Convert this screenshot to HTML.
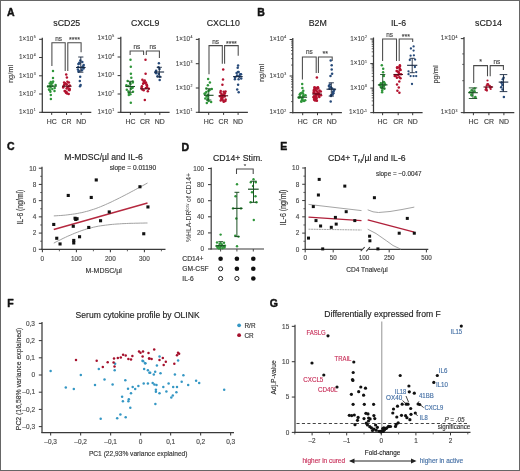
<!DOCTYPE html><html><head><meta charset="utf-8"><style>
html,body{margin:0;padding:0;background:#fff;width:520px;height:471px;overflow:hidden}
svg{display:block;font-family:"Liberation Sans", sans-serif;will-change:transform}
text{paint-order:stroke;stroke-linejoin:round}
text[font-weight=bold]{stroke:#111;stroke-width:0.45px}
</style></head><body>
<svg width="520" height="471" viewBox="0 0 520 471">
<rect x="0" y="0" width="520" height="471" fill="#fff"/>
<text x="7" y="15.9" font-size="10.5" text-anchor="start" fill="#111" font-weight="bold" >A</text>
<text x="13.3" y="74" font-size="7.4" text-anchor="middle" fill="#444" font-weight="normal" stroke="#444" stroke-width="0.15" transform="rotate(-90 13.3 74)" >ng/ml</text>
<line x1="42.3" y1="37.8" x2="42.3" y2="112.89999999999999" stroke="#3a3a3a" stroke-width="1.25" />
<line x1="41.699999999999996" y1="112.3" x2="91.3" y2="112.3" stroke="#3a3a3a" stroke-width="1.25" />
<line x1="39.099999999999994" y1="39.3" x2="42.3" y2="39.3" stroke="#3a3a3a" stroke-width="1.05" />
<text x="35.7" y="41.1" font-size="6.4" text-anchor="end" fill="#4a4a4a" stroke="#4a4a4a" stroke-width="0.12">1×10<tspan font-size="3.5" dy="-2.9" dx="0.3">5</tspan></text>
<line x1="39.099999999999994" y1="57.5" x2="42.3" y2="57.5" stroke="#3a3a3a" stroke-width="1.05" />
<text x="35.7" y="59.3" font-size="6.4" text-anchor="end" fill="#4a4a4a" stroke="#4a4a4a" stroke-width="0.12">1×10<tspan font-size="3.5" dy="-2.9" dx="0.3">4</tspan></text>
<line x1="39.099999999999994" y1="75.8" x2="42.3" y2="75.8" stroke="#3a3a3a" stroke-width="1.05" />
<text x="35.7" y="77.6" font-size="6.4" text-anchor="end" fill="#4a4a4a" stroke="#4a4a4a" stroke-width="0.12">1×10<tspan font-size="3.5" dy="-2.9" dx="0.3">3</tspan></text>
<line x1="39.099999999999994" y1="94" x2="42.3" y2="94" stroke="#3a3a3a" stroke-width="1.05" />
<text x="35.7" y="95.8" font-size="6.4" text-anchor="end" fill="#4a4a4a" stroke="#4a4a4a" stroke-width="0.12">1×10<tspan font-size="3.5" dy="-2.9" dx="0.3">2</tspan></text>
<line x1="39.099999999999994" y1="112.3" x2="42.3" y2="112.3" stroke="#3a3a3a" stroke-width="1.05" />
<text x="35.7" y="114.1" font-size="6.4" text-anchor="end" fill="#4a4a4a" stroke="#4a4a4a" stroke-width="0.12">1×10<tspan font-size="3.5" dy="-2.9" dx="0.3">1</tspan></text>
<line x1="51.7" y1="112.3" x2="51.7" y2="114.89999999999999" stroke="#3a3a3a" stroke-width="1.0" />
<text x="51.7" y="124.1" font-size="6.9" text-anchor="middle" fill="#444" font-weight="normal" stroke="#444" stroke-width="0.15" >HC</text>
<line x1="66.5" y1="112.3" x2="66.5" y2="114.89999999999999" stroke="#3a3a3a" stroke-width="1.0" />
<text x="66.5" y="124.1" font-size="6.9" text-anchor="middle" fill="#444" font-weight="normal" stroke="#444" stroke-width="0.15" >CR</text>
<line x1="81.2" y1="112.3" x2="81.2" y2="114.89999999999999" stroke="#3a3a3a" stroke-width="1.0" />
<text x="81.2" y="124.1" font-size="6.9" text-anchor="middle" fill="#444" font-weight="normal" stroke="#444" stroke-width="0.15" >ND</text>
<text x="66.8" y="26.2" font-size="8.8" text-anchor="middle" fill="#222" font-weight="normal" stroke="#222" stroke-width="0.15" >sCD25</text>
<polyline points="51.9,66.1 51.9,42.7 65.2,42.7 65.2,70.9" stroke="#4a4a4a" stroke-width="1.05" fill="none" />
<polyline points="67.8,70.9 67.8,42.7 81.1,42.7 81.1,52.3" stroke="#4a4a4a" stroke-width="1.05" fill="none" />
<text x="58.55" y="40.7" font-size="6.4" text-anchor="middle" fill="#444" font-weight="normal" stroke="#444" stroke-width="0.15" >ns</text>
<text x="74.44999999999999" y="42.4" font-size="7.0" text-anchor="middle" fill="#444" font-weight="normal" stroke="#444" stroke-width="0.15" >****</text>
<circle cx="53.0" cy="71.0" r="1.25" fill="#2f963a" stroke="none" stroke-width="0"/>
<circle cx="53.0" cy="78.0" r="1.25" fill="#2f963a" stroke="none" stroke-width="0"/>
<circle cx="50.8" cy="95.0" r="1.25" fill="#2f963a" stroke="none" stroke-width="0"/>
<circle cx="50.9" cy="99.0" r="1.25" fill="#2f963a" stroke="none" stroke-width="0"/>
<circle cx="53.1" cy="81.6" r="1.25" fill="#2f963a" stroke="none" stroke-width="0"/>
<circle cx="50.8" cy="82.1" r="1.25" fill="#2f963a" stroke="none" stroke-width="0"/>
<circle cx="52.5" cy="82.8" r="1.25" fill="#2f963a" stroke="none" stroke-width="0"/>
<circle cx="49.7" cy="83.5" r="1.25" fill="#2f963a" stroke="none" stroke-width="0"/>
<circle cx="51.2" cy="84.0" r="1.25" fill="#2f963a" stroke="none" stroke-width="0"/>
<circle cx="55.6" cy="84.9" r="1.25" fill="#2f963a" stroke="none" stroke-width="0"/>
<circle cx="52.3" cy="85.8" r="1.25" fill="#2f963a" stroke="none" stroke-width="0"/>
<circle cx="50.0" cy="86.1" r="1.25" fill="#2f963a" stroke="none" stroke-width="0"/>
<circle cx="48.0" cy="86.5" r="1.25" fill="#2f963a" stroke="none" stroke-width="0"/>
<circle cx="50.5" cy="87.5" r="1.25" fill="#2f963a" stroke="none" stroke-width="0"/>
<circle cx="54.7" cy="88.1" r="1.25" fill="#2f963a" stroke="none" stroke-width="0"/>
<circle cx="52.3" cy="88.9" r="1.25" fill="#2f963a" stroke="none" stroke-width="0"/>
<circle cx="49.0" cy="89.4" r="1.25" fill="#2f963a" stroke="none" stroke-width="0"/>
<circle cx="49.8" cy="90.2" r="1.25" fill="#2f963a" stroke="none" stroke-width="0"/>
<circle cx="54.5" cy="91.0" r="1.25" fill="#2f963a" stroke="none" stroke-width="0"/>
<circle cx="50.4" cy="91.8" r="1.25" fill="#2f963a" stroke="none" stroke-width="0"/>
<line x1="47.1" y1="86.2" x2="56.699999999999996" y2="86.2" stroke="#1a4f22" stroke-width="1.1" />
<circle cx="66.2" cy="74.5" r="1.25" fill="#b3122f" stroke="none" stroke-width="0"/>
<circle cx="66.9" cy="77.5" r="1.25" fill="#b3122f" stroke="none" stroke-width="0"/>
<circle cx="67.4" cy="81.7" r="1.25" fill="#b3122f" stroke="none" stroke-width="0"/>
<circle cx="64.1" cy="82.4" r="1.25" fill="#b3122f" stroke="none" stroke-width="0"/>
<circle cx="68.9" cy="82.6" r="1.25" fill="#b3122f" stroke="none" stroke-width="0"/>
<circle cx="65.0" cy="83.2" r="1.25" fill="#b3122f" stroke="none" stroke-width="0"/>
<circle cx="66.6" cy="84.2" r="1.25" fill="#b3122f" stroke="none" stroke-width="0"/>
<circle cx="66.6" cy="84.6" r="1.25" fill="#b3122f" stroke="none" stroke-width="0"/>
<circle cx="64.1" cy="85.0" r="1.25" fill="#b3122f" stroke="none" stroke-width="0"/>
<circle cx="69.8" cy="85.6" r="1.25" fill="#b3122f" stroke="none" stroke-width="0"/>
<circle cx="68.8" cy="86.0" r="1.25" fill="#b3122f" stroke="none" stroke-width="0"/>
<circle cx="63.3" cy="86.7" r="1.25" fill="#b3122f" stroke="none" stroke-width="0"/>
<circle cx="67.5" cy="87.2" r="1.25" fill="#b3122f" stroke="none" stroke-width="0"/>
<circle cx="63.2" cy="87.5" r="1.25" fill="#b3122f" stroke="none" stroke-width="0"/>
<circle cx="66.6" cy="88.4" r="1.25" fill="#b3122f" stroke="none" stroke-width="0"/>
<circle cx="69.4" cy="88.8" r="1.25" fill="#b3122f" stroke="none" stroke-width="0"/>
<circle cx="69.6" cy="89.3" r="1.25" fill="#b3122f" stroke="none" stroke-width="0"/>
<circle cx="68.7" cy="89.7" r="1.25" fill="#b3122f" stroke="none" stroke-width="0"/>
<circle cx="69.4" cy="90.3" r="1.25" fill="#b3122f" stroke="none" stroke-width="0"/>
<circle cx="64.6" cy="91.0" r="1.25" fill="#b3122f" stroke="none" stroke-width="0"/>
<circle cx="65.3" cy="91.2" r="1.25" fill="#b3122f" stroke="none" stroke-width="0"/>
<circle cx="66.5" cy="92.1" r="1.25" fill="#b3122f" stroke="none" stroke-width="0"/>
<circle cx="65.9" cy="92.5" r="1.25" fill="#b3122f" stroke="none" stroke-width="0"/>
<circle cx="66.3" cy="93.0" r="1.25" fill="#b3122f" stroke="none" stroke-width="0"/>
<circle cx="67.2" cy="93.4" r="1.25" fill="#b3122f" stroke="none" stroke-width="0"/>
<circle cx="68.7" cy="94.1" r="1.25" fill="#b3122f" stroke="none" stroke-width="0"/>
<line x1="62.0" y1="86.2" x2="71.6" y2="86.2" stroke="#5a0a18" stroke-width="1.1" />
<circle cx="80.2" cy="76.8" r="1.25" fill="#284b7a" stroke="none" stroke-width="0"/>
<circle cx="79.8" cy="81.0" r="1.25" fill="#284b7a" stroke="none" stroke-width="0"/>
<circle cx="80.6" cy="85.0" r="1.25" fill="#284b7a" stroke="none" stroke-width="0"/>
<circle cx="80.0" cy="86.2" r="1.25" fill="#284b7a" stroke="none" stroke-width="0"/>
<circle cx="80.3" cy="60.6" r="1.25" fill="#284b7a" stroke="none" stroke-width="0"/>
<circle cx="82.3" cy="62.1" r="1.25" fill="#284b7a" stroke="none" stroke-width="0"/>
<circle cx="79.3" cy="62.8" r="1.25" fill="#284b7a" stroke="none" stroke-width="0"/>
<circle cx="79.5" cy="63.5" r="1.25" fill="#284b7a" stroke="none" stroke-width="0"/>
<circle cx="78.4" cy="64.0" r="1.25" fill="#284b7a" stroke="none" stroke-width="0"/>
<circle cx="83.7" cy="64.9" r="1.25" fill="#284b7a" stroke="none" stroke-width="0"/>
<circle cx="83.1" cy="66.2" r="1.25" fill="#284b7a" stroke="none" stroke-width="0"/>
<circle cx="78.3" cy="67.0" r="1.25" fill="#284b7a" stroke="none" stroke-width="0"/>
<circle cx="81.9" cy="67.4" r="1.25" fill="#284b7a" stroke="none" stroke-width="0"/>
<circle cx="83.5" cy="68.6" r="1.25" fill="#284b7a" stroke="none" stroke-width="0"/>
<circle cx="77.9" cy="69.6" r="1.25" fill="#284b7a" stroke="none" stroke-width="0"/>
<circle cx="81.9" cy="70.2" r="1.25" fill="#284b7a" stroke="none" stroke-width="0"/>
<circle cx="78.8" cy="71.0" r="1.25" fill="#284b7a" stroke="none" stroke-width="0"/>
<circle cx="78.5" cy="71.8" r="1.25" fill="#284b7a" stroke="none" stroke-width="0"/>
<line x1="76.0" y1="67.5" x2="85.6" y2="67.5" stroke="#182840" stroke-width="1.1" />
<line x1="80.8" y1="57" x2="80.8" y2="72.2" stroke="#182840" stroke-width="0.9" />
<line x1="78.2" y1="57" x2="83.39999999999999" y2="57" stroke="#182840" stroke-width="0.9" />
<line x1="78.2" y1="72.2" x2="83.39999999999999" y2="72.2" stroke="#182840" stroke-width="0.9" />
<line x1="120.8" y1="36.8" x2="120.8" y2="112.89999999999999" stroke="#3a3a3a" stroke-width="1.25" />
<line x1="120.2" y1="112.3" x2="169.6" y2="112.3" stroke="#3a3a3a" stroke-width="1.25" />
<line x1="117.6" y1="38.3" x2="120.8" y2="38.3" stroke="#3a3a3a" stroke-width="1.05" />
<text x="114.2" y="40.1" font-size="6.4" text-anchor="end" fill="#4a4a4a" stroke="#4a4a4a" stroke-width="0.12">1×10<tspan font-size="3.5" dy="-2.9" dx="0.3">5</tspan></text>
<line x1="117.6" y1="57" x2="120.8" y2="57" stroke="#3a3a3a" stroke-width="1.05" />
<text x="114.2" y="58.8" font-size="6.4" text-anchor="end" fill="#4a4a4a" stroke="#4a4a4a" stroke-width="0.12">1×10<tspan font-size="3.5" dy="-2.9" dx="0.3">4</tspan></text>
<line x1="117.6" y1="75.6" x2="120.8" y2="75.6" stroke="#3a3a3a" stroke-width="1.05" />
<text x="114.2" y="77.4" font-size="6.4" text-anchor="end" fill="#4a4a4a" stroke="#4a4a4a" stroke-width="0.12">1×10<tspan font-size="3.5" dy="-2.9" dx="0.3">3</tspan></text>
<line x1="117.6" y1="94" x2="120.8" y2="94" stroke="#3a3a3a" stroke-width="1.05" />
<text x="114.2" y="95.8" font-size="6.4" text-anchor="end" fill="#4a4a4a" stroke="#4a4a4a" stroke-width="0.12">1×10<tspan font-size="3.5" dy="-2.9" dx="0.3">2</tspan></text>
<line x1="117.6" y1="112.3" x2="120.8" y2="112.3" stroke="#3a3a3a" stroke-width="1.05" />
<text x="114.2" y="114.1" font-size="6.4" text-anchor="end" fill="#4a4a4a" stroke="#4a4a4a" stroke-width="0.12">1×10<tspan font-size="3.5" dy="-2.9" dx="0.3">1</tspan></text>
<line x1="130.4" y1="112.3" x2="130.4" y2="114.89999999999999" stroke="#3a3a3a" stroke-width="1.0" />
<text x="130.4" y="124.1" font-size="6.9" text-anchor="middle" fill="#444" font-weight="normal" stroke="#444" stroke-width="0.15" >HC</text>
<line x1="145" y1="112.3" x2="145" y2="114.89999999999999" stroke="#3a3a3a" stroke-width="1.0" />
<text x="145" y="124.1" font-size="6.9" text-anchor="middle" fill="#444" font-weight="normal" stroke="#444" stroke-width="0.15" >CR</text>
<line x1="159.8" y1="112.3" x2="159.8" y2="114.89999999999999" stroke="#3a3a3a" stroke-width="1.0" />
<text x="159.8" y="124.1" font-size="6.9" text-anchor="middle" fill="#444" font-weight="normal" stroke="#444" stroke-width="0.15" >ND</text>
<text x="145.2" y="26.2" font-size="8.8" text-anchor="middle" fill="#222" font-weight="normal" stroke="#222" stroke-width="0.15" >CXCL9</text>
<polyline points="130.1,55.0 130.1,51.0 143.6,51.0 143.6,55.0" stroke="#4a4a4a" stroke-width="1.05" fill="none" />
<polyline points="146.3,55.0 146.3,51.0 159.4,51.0 159.4,58.0" stroke="#4a4a4a" stroke-width="1.05" fill="none" />
<text x="136.85" y="48.7" font-size="6.4" text-anchor="middle" fill="#444" font-weight="normal" stroke="#444" stroke-width="0.15" >ns</text>
<text x="152.85000000000002" y="48.7" font-size="6.4" text-anchor="middle" fill="#444" font-weight="normal" stroke="#444" stroke-width="0.15" >ns</text>
<circle cx="130.5" cy="59.7" r="1.25" fill="#2f963a" stroke="none" stroke-width="0"/>
<circle cx="130.8" cy="66.7" r="1.25" fill="#2f963a" stroke="none" stroke-width="0"/>
<circle cx="130.9" cy="73.7" r="1.25" fill="#2f963a" stroke="none" stroke-width="0"/>
<circle cx="131.3" cy="77.8" r="1.25" fill="#2f963a" stroke="none" stroke-width="0"/>
<circle cx="130.8" cy="102.8" r="1.25" fill="#2f963a" stroke="none" stroke-width="0"/>
<circle cx="127.6" cy="80.9" r="1.25" fill="#2f963a" stroke="none" stroke-width="0"/>
<circle cx="132.8" cy="81.4" r="1.25" fill="#2f963a" stroke="none" stroke-width="0"/>
<circle cx="132.8" cy="82.5" r="1.25" fill="#2f963a" stroke="none" stroke-width="0"/>
<circle cx="130.0" cy="83.0" r="1.25" fill="#2f963a" stroke="none" stroke-width="0"/>
<circle cx="130.5" cy="84.1" r="1.25" fill="#2f963a" stroke="none" stroke-width="0"/>
<circle cx="126.4" cy="85.3" r="1.25" fill="#2f963a" stroke="none" stroke-width="0"/>
<circle cx="128.4" cy="85.9" r="1.25" fill="#2f963a" stroke="none" stroke-width="0"/>
<circle cx="132.3" cy="87.6" r="1.25" fill="#2f963a" stroke="none" stroke-width="0"/>
<circle cx="132.5" cy="87.8" r="1.25" fill="#2f963a" stroke="none" stroke-width="0"/>
<circle cx="131.1" cy="88.7" r="1.25" fill="#2f963a" stroke="none" stroke-width="0"/>
<circle cx="126.8" cy="89.7" r="1.25" fill="#2f963a" stroke="none" stroke-width="0"/>
<circle cx="128.5" cy="91.4" r="1.25" fill="#2f963a" stroke="none" stroke-width="0"/>
<circle cx="133.0" cy="91.7" r="1.25" fill="#2f963a" stroke="none" stroke-width="0"/>
<circle cx="129.1" cy="93.3" r="1.25" fill="#2f963a" stroke="none" stroke-width="0"/>
<circle cx="130.4" cy="94.3" r="1.25" fill="#2f963a" stroke="none" stroke-width="0"/>
<circle cx="128.8" cy="95.0" r="1.25" fill="#2f963a" stroke="none" stroke-width="0"/>
<line x1="125.39999999999999" y1="86.5" x2="135.0" y2="86.5" stroke="#1a4f22" stroke-width="1.1" />
<line x1="130.2" y1="81.3" x2="130.2" y2="92.3" stroke="#1a4f22" stroke-width="0.9" />
<line x1="127.6" y1="81.3" x2="132.79999999999998" y2="81.3" stroke="#1a4f22" stroke-width="0.9" />
<line x1="127.6" y1="92.3" x2="132.79999999999998" y2="92.3" stroke="#1a4f22" stroke-width="0.9" />
<circle cx="145.5" cy="59.7" r="1.25" fill="#b3122f" stroke="none" stroke-width="0"/>
<circle cx="145.6" cy="73.7" r="1.25" fill="#b3122f" stroke="none" stroke-width="0"/>
<circle cx="144.8" cy="100.0" r="1.25" fill="#b3122f" stroke="none" stroke-width="0"/>
<circle cx="142.4" cy="79.7" r="1.25" fill="#b3122f" stroke="none" stroke-width="0"/>
<circle cx="144.7" cy="80.6" r="1.25" fill="#b3122f" stroke="none" stroke-width="0"/>
<circle cx="144.2" cy="81.3" r="1.25" fill="#b3122f" stroke="none" stroke-width="0"/>
<circle cx="143.7" cy="82.0" r="1.25" fill="#b3122f" stroke="none" stroke-width="0"/>
<circle cx="145.9" cy="82.6" r="1.25" fill="#b3122f" stroke="none" stroke-width="0"/>
<circle cx="145.0" cy="83.0" r="1.25" fill="#b3122f" stroke="none" stroke-width="0"/>
<circle cx="143.1" cy="83.8" r="1.25" fill="#b3122f" stroke="none" stroke-width="0"/>
<circle cx="146.6" cy="84.4" r="1.25" fill="#b3122f" stroke="none" stroke-width="0"/>
<circle cx="146.7" cy="84.9" r="1.25" fill="#b3122f" stroke="none" stroke-width="0"/>
<circle cx="147.1" cy="85.8" r="1.25" fill="#b3122f" stroke="none" stroke-width="0"/>
<circle cx="141.9" cy="86.2" r="1.25" fill="#b3122f" stroke="none" stroke-width="0"/>
<circle cx="147.1" cy="87.2" r="1.25" fill="#b3122f" stroke="none" stroke-width="0"/>
<circle cx="141.6" cy="87.6" r="1.25" fill="#b3122f" stroke="none" stroke-width="0"/>
<circle cx="145.9" cy="88.1" r="1.25" fill="#b3122f" stroke="none" stroke-width="0"/>
<circle cx="148.8" cy="88.8" r="1.25" fill="#b3122f" stroke="none" stroke-width="0"/>
<circle cx="142.3" cy="89.6" r="1.25" fill="#b3122f" stroke="none" stroke-width="0"/>
<circle cx="143.7" cy="90.3" r="1.25" fill="#b3122f" stroke="none" stroke-width="0"/>
<circle cx="147.8" cy="91.2" r="1.25" fill="#b3122f" stroke="none" stroke-width="0"/>
<line x1="140.0" y1="88.8" x2="149.60000000000002" y2="88.8" stroke="#5a0a18" stroke-width="1.1" />
<circle cx="158.9" cy="63.2" r="1.25" fill="#284b7a" stroke="none" stroke-width="0"/>
<circle cx="158.5" cy="67.3" r="1.25" fill="#284b7a" stroke="none" stroke-width="0"/>
<circle cx="159.7" cy="80.0" r="1.25" fill="#284b7a" stroke="none" stroke-width="0"/>
<circle cx="159.5" cy="69.1" r="1.25" fill="#284b7a" stroke="none" stroke-width="0"/>
<circle cx="156.1" cy="70.7" r="1.25" fill="#284b7a" stroke="none" stroke-width="0"/>
<circle cx="155.5" cy="72.2" r="1.25" fill="#284b7a" stroke="none" stroke-width="0"/>
<circle cx="156.2" cy="73.3" r="1.25" fill="#284b7a" stroke="none" stroke-width="0"/>
<circle cx="158.8" cy="74.1" r="1.25" fill="#284b7a" stroke="none" stroke-width="0"/>
<circle cx="157.5" cy="76.3" r="1.25" fill="#284b7a" stroke="none" stroke-width="0"/>
<circle cx="159.9" cy="76.8" r="1.25" fill="#284b7a" stroke="none" stroke-width="0"/>
<line x1="154.5" y1="72" x2="164.10000000000002" y2="72" stroke="#182840" stroke-width="1.1" />
<line x1="159.3" y1="67.3" x2="159.3" y2="77" stroke="#182840" stroke-width="0.9" />
<line x1="156.70000000000002" y1="67.3" x2="161.9" y2="67.3" stroke="#182840" stroke-width="0.9" />
<line x1="156.70000000000002" y1="77" x2="161.9" y2="77" stroke="#182840" stroke-width="0.9" />
<line x1="199.0" y1="37.9" x2="199.0" y2="112.89999999999999" stroke="#3a3a3a" stroke-width="1.25" />
<line x1="198.4" y1="112.3" x2="247.9" y2="112.3" stroke="#3a3a3a" stroke-width="1.25" />
<line x1="195.8" y1="39.4" x2="199.0" y2="39.4" stroke="#3a3a3a" stroke-width="1.05" />
<text x="192.4" y="41.2" font-size="6.4" text-anchor="end" fill="#4a4a4a" stroke="#4a4a4a" stroke-width="0.12">1×10<tspan font-size="3.5" dy="-2.9" dx="0.3">4</tspan></text>
<line x1="195.8" y1="63.7" x2="199.0" y2="63.7" stroke="#3a3a3a" stroke-width="1.05" />
<text x="192.4" y="65.5" font-size="6.4" text-anchor="end" fill="#4a4a4a" stroke="#4a4a4a" stroke-width="0.12">1×10<tspan font-size="3.5" dy="-2.9" dx="0.3">3</tspan></text>
<line x1="195.8" y1="88" x2="199.0" y2="88" stroke="#3a3a3a" stroke-width="1.05" />
<text x="192.4" y="89.8" font-size="6.4" text-anchor="end" fill="#4a4a4a" stroke="#4a4a4a" stroke-width="0.12">1×10<tspan font-size="3.5" dy="-2.9" dx="0.3">2</tspan></text>
<line x1="195.8" y1="112.3" x2="199.0" y2="112.3" stroke="#3a3a3a" stroke-width="1.05" />
<text x="192.4" y="114.1" font-size="6.4" text-anchor="end" fill="#4a4a4a" stroke="#4a4a4a" stroke-width="0.12">1×10<tspan font-size="3.5" dy="-2.9" dx="0.3">1</tspan></text>
<line x1="208.7" y1="112.3" x2="208.7" y2="114.89999999999999" stroke="#3a3a3a" stroke-width="1.0" />
<text x="208.7" y="124.1" font-size="6.9" text-anchor="middle" fill="#444" font-weight="normal" stroke="#444" stroke-width="0.15" >HC</text>
<line x1="223.6" y1="112.3" x2="223.6" y2="114.89999999999999" stroke="#3a3a3a" stroke-width="1.0" />
<text x="223.6" y="124.1" font-size="6.9" text-anchor="middle" fill="#444" font-weight="normal" stroke="#444" stroke-width="0.15" >CR</text>
<line x1="238.1" y1="112.3" x2="238.1" y2="114.89999999999999" stroke="#3a3a3a" stroke-width="1.0" />
<text x="238.1" y="124.1" font-size="6.9" text-anchor="middle" fill="#444" font-weight="normal" stroke="#444" stroke-width="0.15" >ND</text>
<text x="223.3" y="26.2" font-size="8.8" text-anchor="middle" fill="#222" font-weight="normal" stroke="#222" stroke-width="0.15" >CXCL10</text>
<polyline points="209.0,74.3 209.0,45.6 222.3,45.6 222.3,63.7" stroke="#4a4a4a" stroke-width="1.05" fill="none" />
<polyline points="224.6,63.7 224.6,45.6 238.2,45.6 238.2,55.7" stroke="#4a4a4a" stroke-width="1.05" fill="none" />
<text x="215.65" y="43.6" font-size="6.4" text-anchor="middle" fill="#444" font-weight="normal" stroke="#444" stroke-width="0.15" >ns</text>
<text x="231.39999999999998" y="45.6" font-size="7.0" text-anchor="middle" fill="#444" font-weight="normal" stroke="#444" stroke-width="0.15" >****</text>
<circle cx="208.1" cy="78.9" r="1.25" fill="#2f963a" stroke="none" stroke-width="0"/>
<circle cx="209.9" cy="82.4" r="1.25" fill="#2f963a" stroke="none" stroke-width="0"/>
<circle cx="207.9" cy="85.3" r="1.25" fill="#2f963a" stroke="none" stroke-width="0"/>
<circle cx="206.3" cy="88.4" r="1.25" fill="#2f963a" stroke="none" stroke-width="0"/>
<circle cx="211.8" cy="88.9" r="1.25" fill="#2f963a" stroke="none" stroke-width="0"/>
<circle cx="209.7" cy="89.9" r="1.25" fill="#2f963a" stroke="none" stroke-width="0"/>
<circle cx="208.4" cy="91.1" r="1.25" fill="#2f963a" stroke="none" stroke-width="0"/>
<circle cx="206.3" cy="92.1" r="1.25" fill="#2f963a" stroke="none" stroke-width="0"/>
<circle cx="205.2" cy="93.4" r="1.25" fill="#2f963a" stroke="none" stroke-width="0"/>
<circle cx="204.5" cy="93.8" r="1.25" fill="#2f963a" stroke="none" stroke-width="0"/>
<circle cx="207.9" cy="94.8" r="1.25" fill="#2f963a" stroke="none" stroke-width="0"/>
<circle cx="207.7" cy="96.4" r="1.25" fill="#2f963a" stroke="none" stroke-width="0"/>
<circle cx="206.6" cy="96.6" r="1.25" fill="#2f963a" stroke="none" stroke-width="0"/>
<circle cx="205.3" cy="98.5" r="1.25" fill="#2f963a" stroke="none" stroke-width="0"/>
<circle cx="207.8" cy="99.1" r="1.25" fill="#2f963a" stroke="none" stroke-width="0"/>
<circle cx="207.6" cy="100.1" r="1.25" fill="#2f963a" stroke="none" stroke-width="0"/>
<circle cx="208.7" cy="101.1" r="1.25" fill="#2f963a" stroke="none" stroke-width="0"/>
<circle cx="211.1" cy="102.1" r="1.25" fill="#2f963a" stroke="none" stroke-width="0"/>
<circle cx="206.8" cy="103.0" r="1.25" fill="#2f963a" stroke="none" stroke-width="0"/>
<line x1="203.95" y1="95.3" x2="213.55" y2="95.3" stroke="#1a4f22" stroke-width="1.1" />
<line x1="208.75" y1="88.8" x2="208.75" y2="100" stroke="#1a4f22" stroke-width="0.9" />
<line x1="206.15" y1="88.8" x2="211.35" y2="88.8" stroke="#1a4f22" stroke-width="0.9" />
<line x1="206.15" y1="100" x2="211.35" y2="100" stroke="#1a4f22" stroke-width="0.9" />
<circle cx="223.2" cy="69.6" r="1.25" fill="#b3122f" stroke="none" stroke-width="0"/>
<circle cx="223.0" cy="79.5" r="1.25" fill="#b3122f" stroke="none" stroke-width="0"/>
<circle cx="222.4" cy="84.8" r="1.25" fill="#b3122f" stroke="none" stroke-width="0"/>
<circle cx="220.7" cy="91.1" r="1.25" fill="#b3122f" stroke="none" stroke-width="0"/>
<circle cx="225.5" cy="91.4" r="1.25" fill="#b3122f" stroke="none" stroke-width="0"/>
<circle cx="223.6" cy="91.7" r="1.25" fill="#b3122f" stroke="none" stroke-width="0"/>
<circle cx="220.4" cy="92.5" r="1.25" fill="#b3122f" stroke="none" stroke-width="0"/>
<circle cx="224.6" cy="92.9" r="1.25" fill="#b3122f" stroke="none" stroke-width="0"/>
<circle cx="224.9" cy="93.5" r="1.25" fill="#b3122f" stroke="none" stroke-width="0"/>
<circle cx="221.4" cy="93.9" r="1.25" fill="#b3122f" stroke="none" stroke-width="0"/>
<circle cx="223.3" cy="94.4" r="1.25" fill="#b3122f" stroke="none" stroke-width="0"/>
<circle cx="224.0" cy="95.3" r="1.25" fill="#b3122f" stroke="none" stroke-width="0"/>
<circle cx="222.3" cy="95.8" r="1.25" fill="#b3122f" stroke="none" stroke-width="0"/>
<circle cx="220.1" cy="96.3" r="1.25" fill="#b3122f" stroke="none" stroke-width="0"/>
<circle cx="224.7" cy="96.6" r="1.25" fill="#b3122f" stroke="none" stroke-width="0"/>
<circle cx="222.7" cy="97.4" r="1.25" fill="#b3122f" stroke="none" stroke-width="0"/>
<circle cx="221.6" cy="97.6" r="1.25" fill="#b3122f" stroke="none" stroke-width="0"/>
<circle cx="221.8" cy="98.2" r="1.25" fill="#b3122f" stroke="none" stroke-width="0"/>
<circle cx="221.4" cy="99.0" r="1.25" fill="#b3122f" stroke="none" stroke-width="0"/>
<circle cx="225.6" cy="99.6" r="1.25" fill="#b3122f" stroke="none" stroke-width="0"/>
<circle cx="222.6" cy="99.7" r="1.25" fill="#b3122f" stroke="none" stroke-width="0"/>
<circle cx="220.7" cy="100.4" r="1.25" fill="#b3122f" stroke="none" stroke-width="0"/>
<circle cx="225.4" cy="100.9" r="1.25" fill="#b3122f" stroke="none" stroke-width="0"/>
<circle cx="223.8" cy="101.3" r="1.25" fill="#b3122f" stroke="none" stroke-width="0"/>
<circle cx="223.7" cy="101.8" r="1.25" fill="#b3122f" stroke="none" stroke-width="0"/>
<line x1="218.5" y1="95.8" x2="228.10000000000002" y2="95.8" stroke="#5a0a18" stroke-width="1.1" />
<circle cx="238.1" cy="65.5" r="1.25" fill="#284b7a" stroke="none" stroke-width="0"/>
<circle cx="237.7" cy="67.8" r="1.25" fill="#284b7a" stroke="none" stroke-width="0"/>
<circle cx="238.1" cy="84.8" r="1.25" fill="#284b7a" stroke="none" stroke-width="0"/>
<circle cx="237.2" cy="89.4" r="1.25" fill="#284b7a" stroke="none" stroke-width="0"/>
<circle cx="238.7" cy="92.3" r="1.25" fill="#284b7a" stroke="none" stroke-width="0"/>
<circle cx="238.6" cy="71.9" r="1.25" fill="#284b7a" stroke="none" stroke-width="0"/>
<circle cx="238.0" cy="72.1" r="1.25" fill="#284b7a" stroke="none" stroke-width="0"/>
<circle cx="236.6" cy="73.0" r="1.25" fill="#284b7a" stroke="none" stroke-width="0"/>
<circle cx="241.0" cy="74.2" r="1.25" fill="#284b7a" stroke="none" stroke-width="0"/>
<circle cx="240.2" cy="74.2" r="1.25" fill="#284b7a" stroke="none" stroke-width="0"/>
<circle cx="237.0" cy="75.4" r="1.25" fill="#284b7a" stroke="none" stroke-width="0"/>
<circle cx="239.3" cy="75.9" r="1.25" fill="#284b7a" stroke="none" stroke-width="0"/>
<circle cx="239.4" cy="76.7" r="1.25" fill="#284b7a" stroke="none" stroke-width="0"/>
<circle cx="235.1" cy="77.6" r="1.25" fill="#284b7a" stroke="none" stroke-width="0"/>
<circle cx="241.2" cy="78.4" r="1.25" fill="#284b7a" stroke="none" stroke-width="0"/>
<circle cx="238.6" cy="79.3" r="1.25" fill="#284b7a" stroke="none" stroke-width="0"/>
<circle cx="234.9" cy="79.3" r="1.25" fill="#284b7a" stroke="none" stroke-width="0"/>
<line x1="233.1" y1="76.6" x2="242.70000000000002" y2="76.6" stroke="#182840" stroke-width="1.1" />
<text x="257.2" y="16.0" font-size="10.5" text-anchor="start" fill="#111" font-weight="bold" >B</text>
<text x="264.3" y="73" font-size="7.4" text-anchor="middle" fill="#444" font-weight="normal" stroke="#444" stroke-width="0.15" transform="rotate(-90 264.3 73)" >ng/ml</text>
<line x1="292.8" y1="38.0" x2="292.8" y2="113.19999999999999" stroke="#3a3a3a" stroke-width="1.25" />
<line x1="292.2" y1="112.6" x2="341.9" y2="112.6" stroke="#3a3a3a" stroke-width="1.25" />
<line x1="289.6" y1="39.5" x2="292.8" y2="39.5" stroke="#3a3a3a" stroke-width="1.05" />
<text x="286.2" y="41.3" font-size="6.4" text-anchor="end" fill="#4a4a4a" stroke="#4a4a4a" stroke-width="0.12">1×10<tspan font-size="3.5" dy="-2.9" dx="0.3">4</tspan></text>
<line x1="289.6" y1="76" x2="292.8" y2="76" stroke="#3a3a3a" stroke-width="1.05" />
<text x="286.2" y="77.8" font-size="6.4" text-anchor="end" fill="#4a4a4a" stroke="#4a4a4a" stroke-width="0.12">1×10<tspan font-size="3.5" dy="-2.9" dx="0.3">3</tspan></text>
<line x1="289.6" y1="112.6" x2="292.8" y2="112.6" stroke="#3a3a3a" stroke-width="1.05" />
<text x="286.2" y="114.4" font-size="6.4" text-anchor="end" fill="#4a4a4a" stroke="#4a4a4a" stroke-width="0.12">1×10<tspan font-size="3.5" dy="-2.9" dx="0.3">2</tspan></text>
<line x1="291.0" y1="101.59735365848148" x2="292.8" y2="101.59735365848148" stroke="#3a3a3a" stroke-width="0.75" />
<line x1="291.0" y1="95.16121813999634" x2="292.8" y2="95.16121813999634" stroke="#3a3a3a" stroke-width="0.75" />
<line x1="291.0" y1="90.59470731696297" x2="292.8" y2="90.59470731696297" stroke="#3a3a3a" stroke-width="0.75" />
<line x1="291.0" y1="87.05264634151851" x2="292.8" y2="87.05264634151851" stroke="#3a3a3a" stroke-width="0.75" />
<line x1="291.0" y1="84.15857179847782" x2="292.8" y2="84.15857179847782" stroke="#3a3a3a" stroke-width="0.75" />
<line x1="291.0" y1="81.71166663747891" x2="292.8" y2="81.71166663747891" stroke="#3a3a3a" stroke-width="0.75" />
<line x1="291.0" y1="79.59206097544447" x2="292.8" y2="79.59206097544447" stroke="#3a3a3a" stroke-width="0.75" />
<line x1="291.0" y1="77.72243627999268" x2="292.8" y2="77.72243627999268" stroke="#3a3a3a" stroke-width="0.75" />
<line x1="291.0" y1="65.04735365848148" x2="292.8" y2="65.04735365848148" stroke="#3a3a3a" stroke-width="0.75" />
<line x1="291.0" y1="58.61121813999634" x2="292.8" y2="58.61121813999634" stroke="#3a3a3a" stroke-width="0.75" />
<line x1="291.0" y1="54.04470731696297" x2="292.8" y2="54.04470731696297" stroke="#3a3a3a" stroke-width="0.75" />
<line x1="291.0" y1="50.50264634151851" x2="292.8" y2="50.50264634151851" stroke="#3a3a3a" stroke-width="0.75" />
<line x1="291.0" y1="47.608571798477826" x2="292.8" y2="47.608571798477826" stroke="#3a3a3a" stroke-width="0.75" />
<line x1="291.0" y1="45.161666637478916" x2="292.8" y2="45.161666637478916" stroke="#3a3a3a" stroke-width="0.75" />
<line x1="291.0" y1="43.042060975444464" x2="292.8" y2="43.042060975444464" stroke="#3a3a3a" stroke-width="0.75" />
<line x1="291.0" y1="41.172436279992674" x2="292.8" y2="41.172436279992674" stroke="#3a3a3a" stroke-width="0.75" />
<line x1="302.7" y1="112.6" x2="302.7" y2="115.19999999999999" stroke="#3a3a3a" stroke-width="1.0" />
<text x="302.7" y="124.39999999999999" font-size="6.9" text-anchor="middle" fill="#444" font-weight="normal" stroke="#444" stroke-width="0.15" >HC</text>
<line x1="317.5" y1="112.6" x2="317.5" y2="115.19999999999999" stroke="#3a3a3a" stroke-width="1.0" />
<text x="317.5" y="124.39999999999999" font-size="6.9" text-anchor="middle" fill="#444" font-weight="normal" stroke="#444" stroke-width="0.15" >CR</text>
<line x1="331.8" y1="112.6" x2="331.8" y2="115.19999999999999" stroke="#3a3a3a" stroke-width="1.0" />
<text x="331.8" y="124.39999999999999" font-size="6.9" text-anchor="middle" fill="#444" font-weight="normal" stroke="#444" stroke-width="0.15" >ND</text>
<text x="317.8" y="26.2" font-size="8.8" text-anchor="middle" fill="#222" font-weight="normal" stroke="#222" stroke-width="0.15" >B2M</text>
<polyline points="302.4,79.5 302.4,56.9 316.2,56.9 316.2,73.1" stroke="#4a4a4a" stroke-width="1.05" fill="none" />
<polyline points="318.4,73.1 318.4,56.9 332.2,56.9 332.2,60.9" stroke="#4a4a4a" stroke-width="1.05" fill="none" />
<text x="309.29999999999995" y="54.4" font-size="6.4" text-anchor="middle" fill="#444" font-weight="normal" stroke="#444" stroke-width="0.15" >ns</text>
<text x="325.29999999999995" y="55.9" font-size="7.0" text-anchor="middle" fill="#444" font-weight="normal" stroke="#444" stroke-width="0.15" >**</text>
<circle cx="302.2" cy="83.9" r="1.25" fill="#2f963a" stroke="none" stroke-width="0"/>
<circle cx="302.4" cy="88.1" r="1.25" fill="#2f963a" stroke="none" stroke-width="0"/>
<circle cx="303.3" cy="90.8" r="1.25" fill="#2f963a" stroke="none" stroke-width="0"/>
<circle cx="302.3" cy="92.6" r="1.25" fill="#2f963a" stroke="none" stroke-width="0"/>
<circle cx="300.7" cy="93.2" r="1.25" fill="#2f963a" stroke="none" stroke-width="0"/>
<circle cx="303.0" cy="93.6" r="1.25" fill="#2f963a" stroke="none" stroke-width="0"/>
<circle cx="300.0" cy="94.2" r="1.25" fill="#2f963a" stroke="none" stroke-width="0"/>
<circle cx="299.9" cy="94.5" r="1.25" fill="#2f963a" stroke="none" stroke-width="0"/>
<circle cx="303.6" cy="95.2" r="1.25" fill="#2f963a" stroke="none" stroke-width="0"/>
<circle cx="305.5" cy="95.3" r="1.25" fill="#2f963a" stroke="none" stroke-width="0"/>
<circle cx="303.4" cy="96.2" r="1.25" fill="#2f963a" stroke="none" stroke-width="0"/>
<circle cx="299.7" cy="96.5" r="1.25" fill="#2f963a" stroke="none" stroke-width="0"/>
<circle cx="302.5" cy="96.7" r="1.25" fill="#2f963a" stroke="none" stroke-width="0"/>
<circle cx="299.8" cy="97.2" r="1.25" fill="#2f963a" stroke="none" stroke-width="0"/>
<circle cx="298.8" cy="97.8" r="1.25" fill="#2f963a" stroke="none" stroke-width="0"/>
<circle cx="301.9" cy="98.4" r="1.25" fill="#2f963a" stroke="none" stroke-width="0"/>
<circle cx="302.4" cy="99.0" r="1.25" fill="#2f963a" stroke="none" stroke-width="0"/>
<circle cx="302.3" cy="99.4" r="1.25" fill="#2f963a" stroke="none" stroke-width="0"/>
<circle cx="302.0" cy="99.9" r="1.25" fill="#2f963a" stroke="none" stroke-width="0"/>
<circle cx="305.2" cy="100.2" r="1.25" fill="#2f963a" stroke="none" stroke-width="0"/>
<circle cx="304.0" cy="101.0" r="1.25" fill="#2f963a" stroke="none" stroke-width="0"/>
<circle cx="301.4" cy="101.4" r="1.25" fill="#2f963a" stroke="none" stroke-width="0"/>
<circle cx="301.3" cy="101.6" r="1.25" fill="#2f963a" stroke="none" stroke-width="0"/>
<line x1="297.5" y1="97.2" x2="307.1" y2="97.2" stroke="#1a4f22" stroke-width="1.1" />
<circle cx="316.9" cy="77.5" r="1.3" fill="#b3122f" stroke="none" stroke-width="0"/>
<circle cx="317.9" cy="87.2" r="1.3" fill="#b3122f" stroke="none" stroke-width="0"/>
<circle cx="314.4" cy="87.4" r="1.3" fill="#b3122f" stroke="none" stroke-width="0"/>
<circle cx="315.8" cy="87.8" r="1.3" fill="#b3122f" stroke="none" stroke-width="0"/>
<circle cx="318.1" cy="88.3" r="1.3" fill="#b3122f" stroke="none" stroke-width="0"/>
<circle cx="317.3" cy="88.6" r="1.3" fill="#b3122f" stroke="none" stroke-width="0"/>
<circle cx="314.8" cy="89.0" r="1.3" fill="#b3122f" stroke="none" stroke-width="0"/>
<circle cx="314.9" cy="89.2" r="1.3" fill="#b3122f" stroke="none" stroke-width="0"/>
<circle cx="314.1" cy="89.7" r="1.3" fill="#b3122f" stroke="none" stroke-width="0"/>
<circle cx="314.1" cy="90.1" r="1.3" fill="#b3122f" stroke="none" stroke-width="0"/>
<circle cx="315.9" cy="90.4" r="1.3" fill="#b3122f" stroke="none" stroke-width="0"/>
<circle cx="319.5" cy="90.6" r="1.3" fill="#b3122f" stroke="none" stroke-width="0"/>
<circle cx="313.8" cy="90.8" r="1.3" fill="#b3122f" stroke="none" stroke-width="0"/>
<circle cx="317.1" cy="91.5" r="1.3" fill="#b3122f" stroke="none" stroke-width="0"/>
<circle cx="320.8" cy="91.5" r="1.3" fill="#b3122f" stroke="none" stroke-width="0"/>
<circle cx="313.9" cy="92.2" r="1.3" fill="#b3122f" stroke="none" stroke-width="0"/>
<circle cx="314.0" cy="92.4" r="1.3" fill="#b3122f" stroke="none" stroke-width="0"/>
<circle cx="318.0" cy="92.7" r="1.3" fill="#b3122f" stroke="none" stroke-width="0"/>
<circle cx="318.7" cy="93.0" r="1.3" fill="#b3122f" stroke="none" stroke-width="0"/>
<circle cx="314.1" cy="93.3" r="1.3" fill="#b3122f" stroke="none" stroke-width="0"/>
<circle cx="316.1" cy="93.9" r="1.3" fill="#b3122f" stroke="none" stroke-width="0"/>
<circle cx="317.9" cy="94.1" r="1.3" fill="#b3122f" stroke="none" stroke-width="0"/>
<circle cx="316.0" cy="94.5" r="1.3" fill="#b3122f" stroke="none" stroke-width="0"/>
<circle cx="319.0" cy="94.7" r="1.3" fill="#b3122f" stroke="none" stroke-width="0"/>
<circle cx="321.0" cy="95.3" r="1.3" fill="#b3122f" stroke="none" stroke-width="0"/>
<circle cx="315.8" cy="95.6" r="1.3" fill="#b3122f" stroke="none" stroke-width="0"/>
<circle cx="318.5" cy="95.8" r="1.3" fill="#b3122f" stroke="none" stroke-width="0"/>
<circle cx="314.0" cy="96.3" r="1.3" fill="#b3122f" stroke="none" stroke-width="0"/>
<circle cx="315.9" cy="96.5" r="1.3" fill="#b3122f" stroke="none" stroke-width="0"/>
<circle cx="319.3" cy="96.9" r="1.3" fill="#b3122f" stroke="none" stroke-width="0"/>
<circle cx="313.6" cy="97.3" r="1.3" fill="#b3122f" stroke="none" stroke-width="0"/>
<circle cx="316.5" cy="97.7" r="1.3" fill="#b3122f" stroke="none" stroke-width="0"/>
<circle cx="315.1" cy="98.0" r="1.3" fill="#b3122f" stroke="none" stroke-width="0"/>
<circle cx="316.3" cy="98.3" r="1.3" fill="#b3122f" stroke="none" stroke-width="0"/>
<circle cx="314.5" cy="98.7" r="1.3" fill="#b3122f" stroke="none" stroke-width="0"/>
<circle cx="315.0" cy="99.0" r="1.3" fill="#b3122f" stroke="none" stroke-width="0"/>
<circle cx="314.2" cy="99.4" r="1.3" fill="#b3122f" stroke="none" stroke-width="0"/>
<circle cx="316.1" cy="99.6" r="1.3" fill="#b3122f" stroke="none" stroke-width="0"/>
<circle cx="314.5" cy="100.1" r="1.3" fill="#b3122f" stroke="none" stroke-width="0"/>
<circle cx="315.4" cy="100.4" r="1.3" fill="#b3122f" stroke="none" stroke-width="0"/>
<circle cx="316.9" cy="100.7" r="1.3" fill="#b3122f" stroke="none" stroke-width="0"/>
<line x1="312.2" y1="94" x2="321.8" y2="94" stroke="#5a0a18" stroke-width="1.1" />
<circle cx="330.7" cy="60.5" r="1.25" fill="#284b7a" stroke="none" stroke-width="0"/>
<circle cx="331.7" cy="65.3" r="1.25" fill="#284b7a" stroke="none" stroke-width="0"/>
<circle cx="331.7" cy="69.6" r="1.25" fill="#284b7a" stroke="none" stroke-width="0"/>
<circle cx="332.1" cy="73.8" r="1.25" fill="#284b7a" stroke="none" stroke-width="0"/>
<circle cx="330.5" cy="75.9" r="1.25" fill="#284b7a" stroke="none" stroke-width="0"/>
<circle cx="330.7" cy="101.4" r="1.25" fill="#284b7a" stroke="none" stroke-width="0"/>
<circle cx="329.8" cy="84.5" r="1.25" fill="#284b7a" stroke="none" stroke-width="0"/>
<circle cx="328.9" cy="85.9" r="1.25" fill="#284b7a" stroke="none" stroke-width="0"/>
<circle cx="329.4" cy="86.6" r="1.25" fill="#284b7a" stroke="none" stroke-width="0"/>
<circle cx="330.8" cy="87.3" r="1.25" fill="#284b7a" stroke="none" stroke-width="0"/>
<circle cx="332.2" cy="88.6" r="1.25" fill="#284b7a" stroke="none" stroke-width="0"/>
<circle cx="329.5" cy="88.8" r="1.25" fill="#284b7a" stroke="none" stroke-width="0"/>
<circle cx="334.3" cy="89.8" r="1.25" fill="#284b7a" stroke="none" stroke-width="0"/>
<circle cx="333.5" cy="91.2" r="1.25" fill="#284b7a" stroke="none" stroke-width="0"/>
<circle cx="332.9" cy="92.1" r="1.25" fill="#284b7a" stroke="none" stroke-width="0"/>
<circle cx="333.1" cy="93.1" r="1.25" fill="#284b7a" stroke="none" stroke-width="0"/>
<circle cx="333.3" cy="93.3" r="1.25" fill="#284b7a" stroke="none" stroke-width="0"/>
<circle cx="332.6" cy="94.4" r="1.25" fill="#284b7a" stroke="none" stroke-width="0"/>
<circle cx="331.0" cy="95.3" r="1.25" fill="#284b7a" stroke="none" stroke-width="0"/>
<circle cx="331.0" cy="96.0" r="1.25" fill="#284b7a" stroke="none" stroke-width="0"/>
<line x1="326.5" y1="89.2" x2="336.1" y2="89.2" stroke="#182840" stroke-width="1.1" />
<line x1="331.3" y1="82.8" x2="331.3" y2="96.1" stroke="#182840" stroke-width="0.9" />
<line x1="328.7" y1="82.8" x2="333.90000000000003" y2="82.8" stroke="#182840" stroke-width="0.9" />
<line x1="328.7" y1="96.1" x2="333.90000000000003" y2="96.1" stroke="#182840" stroke-width="0.9" />
<line x1="373.5" y1="37.5" x2="373.5" y2="113.19999999999999" stroke="#3a3a3a" stroke-width="1.25" />
<line x1="372.9" y1="112.6" x2="422.6" y2="112.6" stroke="#3a3a3a" stroke-width="1.25" />
<line x1="370.3" y1="39" x2="373.5" y2="39" stroke="#3a3a3a" stroke-width="1.05" />
<text x="366.9" y="40.8" font-size="6.4" text-anchor="end" fill="#4a4a4a" stroke="#4a4a4a" stroke-width="0.12">1×10<tspan font-size="3.5" dy="-2.9" dx="0.3">2</tspan></text>
<line x1="370.3" y1="63.6" x2="373.5" y2="63.6" stroke="#3a3a3a" stroke-width="1.05" />
<text x="366.9" y="65.4" font-size="6.4" text-anchor="end" fill="#4a4a4a" stroke="#4a4a4a" stroke-width="0.12">1×10<tspan font-size="3.5" dy="-2.9" dx="0.3">1</tspan></text>
<line x1="370.3" y1="88.1" x2="373.5" y2="88.1" stroke="#3a3a3a" stroke-width="1.05" />
<text x="366.9" y="89.9" font-size="6.4" text-anchor="end" fill="#4a4a4a" stroke="#4a4a4a" stroke-width="0.12">1×10<tspan font-size="3.5" dy="-2.9" dx="0.3">0</tspan></text>
<line x1="370.3" y1="112.6" x2="373.5" y2="112.6" stroke="#3a3a3a" stroke-width="1.05" />
<text x="366.9" y="114.4" font-size="6.4" text-anchor="end" fill="#4a4a4a" stroke="#4a4a4a" stroke-width="0.12">1×10<tspan font-size="3.5" dy="-2.9" dx="0.3">-1</tspan></text>
<line x1="371.7" y1="105.21573420636254" x2="373.5" y2="105.21573420636254" stroke="#3a3a3a" stroke-width="0.75" />
<line x1="371.7" y1="100.89621562172667" x2="373.5" y2="100.89621562172667" stroke="#3a3a3a" stroke-width="0.75" />
<line x1="371.7" y1="97.83146841272507" x2="373.5" y2="97.83146841272507" stroke="#3a3a3a" stroke-width="0.75" />
<line x1="371.7" y1="95.45426579363745" x2="373.5" y2="95.45426579363745" stroke="#3a3a3a" stroke-width="0.75" />
<line x1="371.7" y1="93.51194982808921" x2="373.5" y2="93.51194982808921" stroke="#3a3a3a" stroke-width="0.75" />
<line x1="371.7" y1="91.86974507845028" x2="373.5" y2="91.86974507845028" stroke="#3a3a3a" stroke-width="0.75" />
<line x1="371.7" y1="90.44720261908762" x2="373.5" y2="90.44720261908762" stroke="#3a3a3a" stroke-width="0.75" />
<line x1="371.7" y1="89.19243124345336" x2="373.5" y2="89.19243124345336" stroke="#3a3a3a" stroke-width="0.75" />
<line x1="371.7" y1="80.68573420636254" x2="373.5" y2="80.68573420636254" stroke="#3a3a3a" stroke-width="0.75" />
<line x1="371.7" y1="76.36621562172667" x2="373.5" y2="76.36621562172667" stroke="#3a3a3a" stroke-width="0.75" />
<line x1="371.7" y1="73.30146841272507" x2="373.5" y2="73.30146841272507" stroke="#3a3a3a" stroke-width="0.75" />
<line x1="371.7" y1="70.92426579363745" x2="373.5" y2="70.92426579363745" stroke="#3a3a3a" stroke-width="0.75" />
<line x1="371.7" y1="68.98194982808921" x2="373.5" y2="68.98194982808921" stroke="#3a3a3a" stroke-width="0.75" />
<line x1="371.7" y1="67.33974507845028" x2="373.5" y2="67.33974507845028" stroke="#3a3a3a" stroke-width="0.75" />
<line x1="371.7" y1="65.91720261908762" x2="373.5" y2="65.91720261908762" stroke="#3a3a3a" stroke-width="0.75" />
<line x1="371.7" y1="64.66243124345336" x2="373.5" y2="64.66243124345336" stroke="#3a3a3a" stroke-width="0.75" />
<line x1="371.7" y1="56.14573420636254" x2="373.5" y2="56.14573420636254" stroke="#3a3a3a" stroke-width="0.75" />
<line x1="371.7" y1="51.82621562172668" x2="373.5" y2="51.82621562172668" stroke="#3a3a3a" stroke-width="0.75" />
<line x1="371.7" y1="48.76146841272508" x2="373.5" y2="48.76146841272508" stroke="#3a3a3a" stroke-width="0.75" />
<line x1="371.7" y1="46.384265793637454" x2="373.5" y2="46.384265793637454" stroke="#3a3a3a" stroke-width="0.75" />
<line x1="371.7" y1="44.44194982808922" x2="373.5" y2="44.44194982808922" stroke="#3a3a3a" stroke-width="0.75" />
<line x1="371.7" y1="42.79974507845028" x2="373.5" y2="42.79974507845028" stroke="#3a3a3a" stroke-width="0.75" />
<line x1="371.7" y1="41.377202619087626" x2="373.5" y2="41.377202619087626" stroke="#3a3a3a" stroke-width="0.75" />
<line x1="371.7" y1="40.12243124345336" x2="373.5" y2="40.12243124345336" stroke="#3a3a3a" stroke-width="0.75" />
<line x1="382.6" y1="112.6" x2="382.6" y2="115.19999999999999" stroke="#3a3a3a" stroke-width="1.0" />
<text x="382.6" y="124.39999999999999" font-size="6.9" text-anchor="middle" fill="#444" font-weight="normal" stroke="#444" stroke-width="0.15" >HC</text>
<line x1="398.2" y1="112.6" x2="398.2" y2="115.19999999999999" stroke="#3a3a3a" stroke-width="1.0" />
<text x="398.2" y="124.39999999999999" font-size="6.9" text-anchor="middle" fill="#444" font-weight="normal" stroke="#444" stroke-width="0.15" >CR</text>
<line x1="412.7" y1="112.6" x2="412.7" y2="115.19999999999999" stroke="#3a3a3a" stroke-width="1.0" />
<text x="412.7" y="124.39999999999999" font-size="6.9" text-anchor="middle" fill="#444" font-weight="normal" stroke="#444" stroke-width="0.15" >ND</text>
<text x="398.5" y="26.2" font-size="8.8" text-anchor="middle" fill="#222" font-weight="normal" stroke="#222" stroke-width="0.15" >IL-6</text>
<polyline points="382.6,61.1 382.6,39.0 396.5,39.0 396.5,61.1" stroke="#4a4a4a" stroke-width="1.05" fill="none" />
<polyline points="399.2,61.1 399.2,39.0 412.7,39.0 412.7,42.0" stroke="#4a4a4a" stroke-width="1.05" fill="none" />
<text x="389.55" y="36.800000000000004" font-size="6.4" text-anchor="middle" fill="#444" font-weight="normal" stroke="#444" stroke-width="0.15" >ns</text>
<text x="405.95" y="38.7" font-size="7.0" text-anchor="middle" fill="#444" font-weight="normal" stroke="#444" stroke-width="0.15" >***</text>
<circle cx="381.8" cy="65.2" r="1.25" fill="#2f963a" stroke="none" stroke-width="0"/>
<circle cx="383.2" cy="68.8" r="1.25" fill="#2f963a" stroke="none" stroke-width="0"/>
<circle cx="383.1" cy="72.2" r="1.25" fill="#2f963a" stroke="none" stroke-width="0"/>
<circle cx="383.8" cy="76.0" r="1.25" fill="#2f963a" stroke="none" stroke-width="0"/>
<circle cx="382.2" cy="90.4" r="1.25" fill="#2f963a" stroke="none" stroke-width="0"/>
<circle cx="382.1" cy="92.3" r="1.25" fill="#2f963a" stroke="none" stroke-width="0"/>
<circle cx="383.6" cy="81.9" r="1.25" fill="#2f963a" stroke="none" stroke-width="0"/>
<circle cx="383.7" cy="82.2" r="1.25" fill="#2f963a" stroke="none" stroke-width="0"/>
<circle cx="384.4" cy="82.8" r="1.25" fill="#2f963a" stroke="none" stroke-width="0"/>
<circle cx="380.9" cy="83.2" r="1.25" fill="#2f963a" stroke="none" stroke-width="0"/>
<circle cx="381.6" cy="84.1" r="1.25" fill="#2f963a" stroke="none" stroke-width="0"/>
<circle cx="385.1" cy="84.3" r="1.25" fill="#2f963a" stroke="none" stroke-width="0"/>
<circle cx="379.8" cy="85.1" r="1.25" fill="#2f963a" stroke="none" stroke-width="0"/>
<circle cx="384.0" cy="85.5" r="1.25" fill="#2f963a" stroke="none" stroke-width="0"/>
<circle cx="383.8" cy="85.9" r="1.25" fill="#2f963a" stroke="none" stroke-width="0"/>
<circle cx="381.6" cy="86.4" r="1.25" fill="#2f963a" stroke="none" stroke-width="0"/>
<circle cx="380.8" cy="86.9" r="1.25" fill="#2f963a" stroke="none" stroke-width="0"/>
<circle cx="382.2" cy="87.9" r="1.25" fill="#2f963a" stroke="none" stroke-width="0"/>
<circle cx="382.4" cy="88.5" r="1.25" fill="#2f963a" stroke="none" stroke-width="0"/>
<circle cx="384.4" cy="88.8" r="1.25" fill="#2f963a" stroke="none" stroke-width="0"/>
<line x1="377.9" y1="84.9" x2="387.5" y2="84.9" stroke="#1a4f22" stroke-width="1.1" />
<line x1="382.7" y1="74.5" x2="382.7" y2="88" stroke="#1a4f22" stroke-width="0.9" />
<line x1="380.09999999999997" y1="74.5" x2="385.3" y2="74.5" stroke="#1a4f22" stroke-width="0.9" />
<line x1="380.09999999999997" y1="88" x2="385.3" y2="88" stroke="#1a4f22" stroke-width="0.9" />
<circle cx="399.3" cy="81.5" r="1.25" fill="#b3122f" stroke="none" stroke-width="0"/>
<circle cx="397.0" cy="84.5" r="1.25" fill="#b3122f" stroke="none" stroke-width="0"/>
<circle cx="398.8" cy="87.5" r="1.25" fill="#b3122f" stroke="none" stroke-width="0"/>
<circle cx="397.4" cy="90.8" r="1.25" fill="#b3122f" stroke="none" stroke-width="0"/>
<circle cx="399.4" cy="92.7" r="1.25" fill="#b3122f" stroke="none" stroke-width="0"/>
<circle cx="399.9" cy="65.2" r="1.25" fill="#b3122f" stroke="none" stroke-width="0"/>
<circle cx="399.8" cy="66.3" r="1.25" fill="#b3122f" stroke="none" stroke-width="0"/>
<circle cx="397.1" cy="67.2" r="1.25" fill="#b3122f" stroke="none" stroke-width="0"/>
<circle cx="399.1" cy="67.4" r="1.25" fill="#b3122f" stroke="none" stroke-width="0"/>
<circle cx="397.1" cy="68.1" r="1.25" fill="#b3122f" stroke="none" stroke-width="0"/>
<circle cx="399.9" cy="68.7" r="1.25" fill="#b3122f" stroke="none" stroke-width="0"/>
<circle cx="399.8" cy="69.8" r="1.25" fill="#b3122f" stroke="none" stroke-width="0"/>
<circle cx="400.6" cy="70.0" r="1.25" fill="#b3122f" stroke="none" stroke-width="0"/>
<circle cx="396.6" cy="70.9" r="1.25" fill="#b3122f" stroke="none" stroke-width="0"/>
<circle cx="397.7" cy="71.5" r="1.25" fill="#b3122f" stroke="none" stroke-width="0"/>
<circle cx="398.6" cy="72.0" r="1.25" fill="#b3122f" stroke="none" stroke-width="0"/>
<circle cx="398.7" cy="72.8" r="1.25" fill="#b3122f" stroke="none" stroke-width="0"/>
<circle cx="399.3" cy="73.9" r="1.25" fill="#b3122f" stroke="none" stroke-width="0"/>
<circle cx="401.0" cy="74.2" r="1.25" fill="#b3122f" stroke="none" stroke-width="0"/>
<circle cx="398.1" cy="75.2" r="1.25" fill="#b3122f" stroke="none" stroke-width="0"/>
<circle cx="394.7" cy="75.9" r="1.25" fill="#b3122f" stroke="none" stroke-width="0"/>
<circle cx="395.8" cy="76.0" r="1.25" fill="#b3122f" stroke="none" stroke-width="0"/>
<circle cx="399.4" cy="77.2" r="1.25" fill="#b3122f" stroke="none" stroke-width="0"/>
<circle cx="396.9" cy="77.7" r="1.25" fill="#b3122f" stroke="none" stroke-width="0"/>
<circle cx="400.5" cy="78.3" r="1.25" fill="#b3122f" stroke="none" stroke-width="0"/>
<line x1="393.4" y1="74.5" x2="403.0" y2="74.5" stroke="#5a0a18" stroke-width="1.1" />
<circle cx="413.6" cy="46.4" r="1.15" fill="#284b7a" stroke="none" stroke-width="0"/>
<circle cx="410.9" cy="48.5" r="1.15" fill="#284b7a" stroke="none" stroke-width="0"/>
<circle cx="413.6" cy="50.6" r="1.15" fill="#284b7a" stroke="none" stroke-width="0"/>
<circle cx="410.6" cy="55.7" r="1.15" fill="#284b7a" stroke="none" stroke-width="0"/>
<circle cx="413.9" cy="55.3" r="1.15" fill="#284b7a" stroke="none" stroke-width="0"/>
<circle cx="409.8" cy="60.0" r="1.15" fill="#284b7a" stroke="none" stroke-width="0"/>
<circle cx="415.1" cy="59.6" r="1.15" fill="#284b7a" stroke="none" stroke-width="0"/>
<circle cx="414.9" cy="67.0" r="1.15" fill="#284b7a" stroke="none" stroke-width="0"/>
<circle cx="408.5" cy="71.3" r="1.15" fill="#284b7a" stroke="none" stroke-width="0"/>
<circle cx="416.2" cy="72.1" r="1.15" fill="#284b7a" stroke="none" stroke-width="0"/>
<circle cx="408.5" cy="74.2" r="1.15" fill="#284b7a" stroke="none" stroke-width="0"/>
<circle cx="410.6" cy="76.1" r="1.15" fill="#284b7a" stroke="none" stroke-width="0"/>
<circle cx="413.6" cy="76.1" r="1.15" fill="#284b7a" stroke="none" stroke-width="0"/>
<circle cx="416.2" cy="76.1" r="1.15" fill="#284b7a" stroke="none" stroke-width="0"/>
<circle cx="412.0" cy="84.0" r="1.15" fill="#284b7a" stroke="none" stroke-width="0"/>
<line x1="407.09999999999997" y1="65.3" x2="417.3" y2="65.3" stroke="#182840" stroke-width="1.1" />
<line x1="412.2" y1="58.3" x2="412.2" y2="72.7" stroke="#182840" stroke-width="0.9" />
<line x1="409.59999999999997" y1="58.3" x2="414.8" y2="58.3" stroke="#182840" stroke-width="0.9" />
<line x1="409.59999999999997" y1="72.7" x2="414.8" y2="72.7" stroke="#182840" stroke-width="0.9" />
<line x1="464.0" y1="37.1" x2="464.0" y2="113.19999999999999" stroke="#3a3a3a" stroke-width="1.25" />
<line x1="463.4" y1="112.6" x2="514.3" y2="112.6" stroke="#3a3a3a" stroke-width="1.25" />
<line x1="460.8" y1="38.6" x2="464.0" y2="38.6" stroke="#3a3a3a" stroke-width="1.05" />
<text x="457.4" y="40.4" font-size="6.4" text-anchor="end" fill="#4a4a4a" stroke="#4a4a4a" stroke-width="0.12">1×10<tspan font-size="3.5" dy="-2.9" dx="0.3">4</tspan></text>
<line x1="460.8" y1="112.6" x2="464.0" y2="112.6" stroke="#3a3a3a" stroke-width="1.05" />
<text x="457.4" y="114.4" font-size="6.4" text-anchor="end" fill="#4a4a4a" stroke="#4a4a4a" stroke-width="0.12">1×10<tspan font-size="3.5" dy="-2.9" dx="0.3">3</tspan></text>
<line x1="462.2" y1="53.9" x2="464.0" y2="53.9" stroke="#3a3a3a" stroke-width="0.75" />
<line x1="462.2" y1="64.4" x2="464.0" y2="64.4" stroke="#3a3a3a" stroke-width="0.75" />
<line x1="462.2" y1="80.7" x2="464.0" y2="80.7" stroke="#3a3a3a" stroke-width="0.75" />
<line x1="473.4" y1="112.6" x2="473.4" y2="115.19999999999999" stroke="#3a3a3a" stroke-width="1.0" />
<text x="473.4" y="124.39999999999999" font-size="6.9" text-anchor="middle" fill="#444" font-weight="normal" stroke="#444" stroke-width="0.15" >HC</text>
<line x1="488.9" y1="112.6" x2="488.9" y2="115.19999999999999" stroke="#3a3a3a" stroke-width="1.0" />
<text x="488.9" y="124.39999999999999" font-size="6.9" text-anchor="middle" fill="#444" font-weight="normal" stroke="#444" stroke-width="0.15" >CR</text>
<line x1="503.9" y1="112.6" x2="503.9" y2="115.19999999999999" stroke="#3a3a3a" stroke-width="1.0" />
<text x="503.9" y="124.39999999999999" font-size="6.9" text-anchor="middle" fill="#444" font-weight="normal" stroke="#444" stroke-width="0.15" >ND</text>
<text x="488.5" y="26.2" font-size="8.8" text-anchor="middle" fill="#222" font-weight="normal" stroke="#222" stroke-width="0.15" >sCD14</text>
<text x="438.3" y="74.5" font-size="7.4" text-anchor="middle" fill="#444" font-weight="normal" stroke="#444" stroke-width="0.15" transform="rotate(-90 438.3 74.5)" >pg/ml</text>
<polyline points="473.7,83.1 473.7,65.6 487.5,65.6 487.5,76.2" stroke="#4a4a4a" stroke-width="1.05" fill="none" />
<polyline points="490.2,76.2 490.2,65.6 503.4,65.6 503.4,69.9" stroke="#4a4a4a" stroke-width="1.05" fill="none" />
<text x="480.6" y="64.1" font-size="7.0" text-anchor="middle" fill="#444" font-weight="normal" stroke="#444" stroke-width="0.15" >*</text>
<text x="496.79999999999995" y="63.6" font-size="6.4" text-anchor="middle" fill="#444" font-weight="normal" stroke="#444" stroke-width="0.15" >ns</text>
<circle cx="474.7" cy="88.5" r="1.25" fill="#2f963a" stroke="none" stroke-width="0"/>
<circle cx="471.6" cy="90.2" r="1.25" fill="#2f963a" stroke="none" stroke-width="0"/>
<circle cx="474.5" cy="91.2" r="1.25" fill="#2f963a" stroke="none" stroke-width="0"/>
<circle cx="469.9" cy="92.2" r="1.25" fill="#2f963a" stroke="none" stroke-width="0"/>
<circle cx="472.0" cy="92.6" r="1.25" fill="#2f963a" stroke="none" stroke-width="0"/>
<circle cx="471.3" cy="94.7" r="1.25" fill="#2f963a" stroke="none" stroke-width="0"/>
<circle cx="471.8" cy="95.6" r="1.25" fill="#2f963a" stroke="none" stroke-width="0"/>
<circle cx="475.3" cy="97.1" r="1.25" fill="#2f963a" stroke="none" stroke-width="0"/>
<circle cx="475.4" cy="97.8" r="1.25" fill="#2f963a" stroke="none" stroke-width="0"/>
<line x1="468.2" y1="92.7" x2="477.8" y2="92.7" stroke="#1a4f22" stroke-width="1.1" />
<line x1="473.0" y1="87.9" x2="473.0" y2="98.5" stroke="#1a4f22" stroke-width="0.9" />
<line x1="468.8" y1="87.9" x2="477.2" y2="87.9" stroke="#1a4f22" stroke-width="0.9" />
<line x1="468.8" y1="98.5" x2="477.2" y2="98.5" stroke="#1a4f22" stroke-width="0.9" />
<circle cx="487.5" cy="80.5" r="1.1" fill="#b3122f" stroke="none" stroke-width="0"/>
<circle cx="487.4" cy="84.0" r="1.1" fill="#b3122f" stroke="none" stroke-width="0"/>
<circle cx="488.2" cy="84.3" r="1.1" fill="#b3122f" stroke="none" stroke-width="0"/>
<circle cx="488.2" cy="84.9" r="1.1" fill="#b3122f" stroke="none" stroke-width="0"/>
<circle cx="486.7" cy="85.4" r="1.1" fill="#b3122f" stroke="none" stroke-width="0"/>
<circle cx="489.7" cy="85.8" r="1.1" fill="#b3122f" stroke="none" stroke-width="0"/>
<circle cx="489.7" cy="86.3" r="1.1" fill="#b3122f" stroke="none" stroke-width="0"/>
<circle cx="491.5" cy="87.0" r="1.1" fill="#b3122f" stroke="none" stroke-width="0"/>
<circle cx="486.2" cy="87.6" r="1.1" fill="#b3122f" stroke="none" stroke-width="0"/>
<circle cx="490.2" cy="87.8" r="1.1" fill="#b3122f" stroke="none" stroke-width="0"/>
<circle cx="486.2" cy="88.4" r="1.1" fill="#b3122f" stroke="none" stroke-width="0"/>
<circle cx="490.7" cy="89.0" r="1.1" fill="#b3122f" stroke="none" stroke-width="0"/>
<circle cx="486.6" cy="89.5" r="1.1" fill="#b3122f" stroke="none" stroke-width="0"/>
<circle cx="485.5" cy="89.8" r="1.1" fill="#b3122f" stroke="none" stroke-width="0"/>
<circle cx="486.9" cy="90.6" r="1.1" fill="#b3122f" stroke="none" stroke-width="0"/>
<line x1="483.5" y1="87" x2="493.1" y2="87" stroke="#5a0a18" stroke-width="1.1" />
<circle cx="503.9" cy="97.0" r="1.25" fill="#284b7a" stroke="none" stroke-width="0"/>
<circle cx="503.6" cy="77.7" r="1.25" fill="#284b7a" stroke="none" stroke-width="0"/>
<circle cx="502.8" cy="79.2" r="1.25" fill="#284b7a" stroke="none" stroke-width="0"/>
<circle cx="501.8" cy="82.4" r="1.25" fill="#284b7a" stroke="none" stroke-width="0"/>
<circle cx="501.6" cy="82.7" r="1.25" fill="#284b7a" stroke="none" stroke-width="0"/>
<circle cx="502.3" cy="85.1" r="1.25" fill="#284b7a" stroke="none" stroke-width="0"/>
<circle cx="501.2" cy="87.3" r="1.25" fill="#284b7a" stroke="none" stroke-width="0"/>
<circle cx="502.6" cy="89.6" r="1.25" fill="#284b7a" stroke="none" stroke-width="0"/>
<line x1="498.7" y1="82.1" x2="508.3" y2="82.1" stroke="#182840" stroke-width="1.1" />
<line x1="503.5" y1="74.6" x2="503.5" y2="91.6" stroke="#182840" stroke-width="0.9" />
<line x1="499.7" y1="74.6" x2="507.3" y2="74.6" stroke="#182840" stroke-width="0.9" />
<line x1="499.7" y1="91.6" x2="507.3" y2="91.6" stroke="#182840" stroke-width="0.9" />
<text x="7.0" y="150.0" font-size="10.5" text-anchor="start" fill="#111" font-weight="bold" >C</text>
<text x="103.6" y="160.2" font-size="8.7" text-anchor="middle" fill="#222" font-weight="normal" stroke="#222" stroke-width="0.15"  textLength="78.5" lengthAdjust="spacingAndGlyphs">M-MDSC/µl and IL-6</text>
<text x="109.7" y="170.4" font-size="6.3" text-anchor="start" fill="#333" font-weight="normal" stroke="#333" stroke-width="0.15"  textLength="46.5" lengthAdjust="spacingAndGlyphs">slope = 0.01190</text>
<line x1="42.0" y1="166.70000000000002" x2="42.0" y2="249.9" stroke="#3a3a3a" stroke-width="1.25" />
<line x1="41.4" y1="249.3" x2="165.5" y2="249.3" stroke="#3a3a3a" stroke-width="1.25" />
<line x1="38.8" y1="249.3" x2="42.0" y2="249.3" stroke="#3a3a3a" stroke-width="1.05" />
<text x="36.4" y="251.60000000000002" font-size="6.4" text-anchor="end" fill="#4a4a4a" font-weight="normal" stroke="#4a4a4a" stroke-width="0.15" >0</text>
<line x1="38.8" y1="233.08" x2="42.0" y2="233.08" stroke="#3a3a3a" stroke-width="1.05" />
<text x="36.4" y="235.38000000000002" font-size="6.4" text-anchor="end" fill="#4a4a4a" font-weight="normal" stroke="#4a4a4a" stroke-width="0.15" >2</text>
<line x1="38.8" y1="216.86" x2="42.0" y2="216.86" stroke="#3a3a3a" stroke-width="1.05" />
<text x="36.4" y="219.16000000000003" font-size="6.4" text-anchor="end" fill="#4a4a4a" font-weight="normal" stroke="#4a4a4a" stroke-width="0.15" >4</text>
<line x1="38.8" y1="200.64000000000001" x2="42.0" y2="200.64000000000001" stroke="#3a3a3a" stroke-width="1.05" />
<text x="36.4" y="202.94000000000003" font-size="6.4" text-anchor="end" fill="#4a4a4a" font-weight="normal" stroke="#4a4a4a" stroke-width="0.15" >6</text>
<line x1="38.8" y1="184.42000000000002" x2="42.0" y2="184.42000000000002" stroke="#3a3a3a" stroke-width="1.05" />
<text x="36.4" y="186.72000000000003" font-size="6.4" text-anchor="end" fill="#4a4a4a" font-weight="normal" stroke="#4a4a4a" stroke-width="0.15" >8</text>
<line x1="38.8" y1="168.20000000000002" x2="42.0" y2="168.20000000000002" stroke="#3a3a3a" stroke-width="1.05" />
<text x="36.4" y="170.50000000000003" font-size="6.4" text-anchor="end" fill="#4a4a4a" font-weight="normal" stroke="#4a4a4a" stroke-width="0.15" >10</text>
<line x1="40.2" y1="241.19" x2="42.0" y2="241.19" stroke="#3a3a3a" stroke-width="0.8" />
<line x1="40.2" y1="224.97000000000003" x2="42.0" y2="224.97000000000003" stroke="#3a3a3a" stroke-width="0.8" />
<line x1="40.2" y1="208.75" x2="42.0" y2="208.75" stroke="#3a3a3a" stroke-width="0.8" />
<line x1="40.2" y1="192.53000000000003" x2="42.0" y2="192.53000000000003" stroke="#3a3a3a" stroke-width="0.8" />
<line x1="40.2" y1="176.31" x2="42.0" y2="176.31" stroke="#3a3a3a" stroke-width="0.8" />
<line x1="42.4" y1="249.3" x2="42.4" y2="252.3" stroke="#3a3a3a" stroke-width="1.05" />
<text x="42.4" y="260.7" font-size="6.4" text-anchor="middle" fill="#4a4a4a" font-weight="normal" stroke="#4a4a4a" stroke-width="0.15" >0</text>
<line x1="76.4" y1="249.3" x2="76.4" y2="252.3" stroke="#3a3a3a" stroke-width="1.05" />
<text x="76.4" y="260.7" font-size="6.4" text-anchor="middle" fill="#4a4a4a" font-weight="normal" stroke="#4a4a4a" stroke-width="0.15" >100</text>
<line x1="110.4" y1="249.3" x2="110.4" y2="252.3" stroke="#3a3a3a" stroke-width="1.05" />
<text x="110.4" y="260.7" font-size="6.4" text-anchor="middle" fill="#4a4a4a" font-weight="normal" stroke="#4a4a4a" stroke-width="0.15" >200</text>
<line x1="144.4" y1="249.3" x2="144.4" y2="252.3" stroke="#3a3a3a" stroke-width="1.05" />
<text x="144.4" y="260.7" font-size="6.4" text-anchor="middle" fill="#4a4a4a" font-weight="normal" stroke="#4a4a4a" stroke-width="0.15" >300</text>
<line x1="59.4" y1="249.3" x2="59.4" y2="251.3" stroke="#3a3a3a" stroke-width="0.8" />
<line x1="93.4" y1="249.3" x2="93.4" y2="251.3" stroke="#3a3a3a" stroke-width="0.8" />
<line x1="127.4" y1="249.3" x2="127.4" y2="251.3" stroke="#3a3a3a" stroke-width="0.8" />
<line x1="161.4" y1="249.3" x2="161.4" y2="251.3" stroke="#3a3a3a" stroke-width="0.8" />
<text x="103.6" y="272.5" font-size="7.0" text-anchor="middle" fill="#333" font-weight="normal" stroke="#333" stroke-width="0.15" >M-MDSC/µl</text>
<text x="23.4" y="207.1" font-size="8.2" text-anchor="middle" fill="#333" font-weight="normal" stroke="#333" stroke-width="0.15" transform="rotate(-90 23.4 207.1)"  textLength="35" lengthAdjust="spacingAndGlyphs">IL-6 (ng/ml)</text>
<polyline points="53.8,215.9 56.1,215.8 58.4,215.6 60.8,215.5 63.1,215.3 65.5,215.1 67.8,214.8 70.2,214.5 72.5,214.2 74.8,213.9 77.2,213.5 79.5,213.0 81.9,212.6 84.2,212.0 86.6,211.4 88.9,210.8 91.2,210.0 93.6,209.3 95.9,208.5 98.3,207.6 100.6,206.7 103.0,205.7 105.3,204.7 107.7,203.6 110.0,202.6 112.3,201.5 114.7,200.3 117.0,199.2 119.4,198.0 121.7,196.8 124.1,195.6 126.4,194.4 128.8,193.2 131.1,191.9 133.4,190.7 135.8,189.4 138.1,188.1 140.5,186.9 142.8,185.6 145.2,184.3 147.5,183.0" stroke="#9c9c9c" stroke-width="0.95" fill="none" />
<polyline points="53.8,243.1 56.1,241.9 58.4,240.7 60.8,239.6 63.1,238.4 65.5,237.3 67.8,236.2 70.2,235.2 72.5,234.2 74.8,233.2 77.2,232.3 79.5,231.4 81.9,230.5 84.2,229.8 86.6,229.0 88.9,228.4 91.2,227.8 93.6,227.2 95.9,226.7 98.3,226.2 100.6,225.8 103.0,225.5 105.3,225.2 107.7,224.9 110.0,224.6 112.3,224.4 114.7,224.2 117.0,224.0 119.4,223.9 121.7,223.7 124.1,223.6 126.4,223.5 128.8,223.4 131.1,223.3 133.4,223.3 135.8,223.2 138.1,223.2 140.5,223.1 142.8,223.1 145.2,223.0 147.5,223.0" stroke="#9c9c9c" stroke-width="0.95" fill="none" />
<line x1="53.75" y1="229.5" x2="147.5" y2="203" stroke="#b5283f" stroke-width="1.35" />
<rect x="52.2" y="222.9" width="3.1" height="3.1" fill="#111"/>
<rect x="55.2" y="236.7" width="3.1" height="3.1" fill="#111"/>
<rect x="58.5" y="242.4" width="3.1" height="3.1" fill="#111"/>
<rect x="66.7" y="193.9" width="3.1" height="3.1" fill="#111"/>
<rect x="71.7" y="224.7" width="3.1" height="3.1" fill="#111"/>
<rect x="72.2" y="238.9" width="3.1" height="3.1" fill="#111"/>
<rect x="72.2" y="241.4" width="3.1" height="3.1" fill="#111"/>
<rect x="73.5" y="216.7" width="3.1" height="3.1" fill="#111"/>
<rect x="75.5" y="217.2" width="3.1" height="3.1" fill="#111"/>
<rect x="74.2" y="217.9" width="3.1" height="3.1" fill="#111"/>
<rect x="78.0" y="235.2" width="3.1" height="3.1" fill="#111"/>
<rect x="87.2" y="225.9" width="3.1" height="3.1" fill="#111"/>
<rect x="89.7" y="195.9" width="3.1" height="3.1" fill="#111"/>
<rect x="94.7" y="178.4" width="3.1" height="3.1" fill="#111"/>
<rect x="99.0" y="219.2" width="3.1" height="3.1" fill="#111"/>
<rect x="107.7" y="210.4" width="3.1" height="3.1" fill="#111"/>
<rect x="138.4" y="185.2" width="3.1" height="3.1" fill="#111"/>
<rect x="142.2" y="232.2" width="3.1" height="3.1" fill="#111"/>
<rect x="146.4" y="205.4" width="3.1" height="3.1" fill="#111"/>
<text x="181.5" y="150.5" font-size="10.5" text-anchor="start" fill="#111" font-weight="bold" >D</text>
<text x="237.8" y="160.8" font-size="8.7" text-anchor="middle" fill="#222" font-weight="normal" stroke="#222" stroke-width="0.15" >CD14+ Stim.</text>
<line x1="211.2" y1="167.5" x2="211.2" y2="249.5" stroke="#3a3a3a" stroke-width="1.2" />
<line x1="210.6" y1="249" x2="264" y2="249" stroke="#3a3a3a" stroke-width="1.2" />
<line x1="208.0" y1="249.0" x2="211.2" y2="249.0" stroke="#3a3a3a" stroke-width="1.05" />
<text x="204.0" y="251.3" font-size="6.4" text-anchor="end" fill="#4a4a4a" font-weight="normal" stroke="#4a4a4a" stroke-width="0.15" >0</text>
<line x1="208.0" y1="232.9" x2="211.2" y2="232.9" stroke="#3a3a3a" stroke-width="1.05" />
<text x="204.0" y="235.20000000000002" font-size="6.4" text-anchor="end" fill="#4a4a4a" font-weight="normal" stroke="#4a4a4a" stroke-width="0.15" >20</text>
<line x1="208.0" y1="216.8" x2="211.2" y2="216.8" stroke="#3a3a3a" stroke-width="1.05" />
<text x="204.0" y="219.10000000000002" font-size="6.4" text-anchor="end" fill="#4a4a4a" font-weight="normal" stroke="#4a4a4a" stroke-width="0.15" >40</text>
<line x1="208.0" y1="200.7" x2="211.2" y2="200.7" stroke="#3a3a3a" stroke-width="1.05" />
<text x="204.0" y="203.0" font-size="6.4" text-anchor="end" fill="#4a4a4a" font-weight="normal" stroke="#4a4a4a" stroke-width="0.15" >60</text>
<line x1="208.0" y1="184.6" x2="211.2" y2="184.6" stroke="#3a3a3a" stroke-width="1.05" />
<text x="204.0" y="186.9" font-size="6.4" text-anchor="end" fill="#4a4a4a" font-weight="normal" stroke="#4a4a4a" stroke-width="0.15" >80</text>
<line x1="208.0" y1="168.5" x2="211.2" y2="168.5" stroke="#3a3a3a" stroke-width="1.05" />
<text x="204.0" y="170.8" font-size="6.4" text-anchor="end" fill="#4a4a4a" font-weight="normal" stroke="#4a4a4a" stroke-width="0.15" >100</text>
<line x1="220.6" y1="249" x2="220.6" y2="251.5" stroke="#3a3a3a" stroke-width="0.9" />
<line x1="236.9" y1="249" x2="236.9" y2="251.5" stroke="#3a3a3a" stroke-width="0.9" />
<line x1="253.3" y1="249" x2="253.3" y2="251.5" stroke="#3a3a3a" stroke-width="0.9" />
<text x="191" y="207.5" font-size="6.8" text-anchor="middle" fill="#333" transform="rotate(-90 191 207.5)">%HLA-DR<tspan font-size="4.6" dy="-2.2">low</tspan><tspan dy="2.2"> of CD14+</tspan></text>
<text x="182.3" y="261.2" font-size="6.7" text-anchor="start" fill="#333" font-weight="normal" stroke="#333" stroke-width="0.15" >CD14+</text>
<text x="182.3" y="271.2" font-size="6.7" text-anchor="start" fill="#333" font-weight="normal" stroke="#333" stroke-width="0.15" >GM-CSF</text>
<text x="182.3" y="280.9" font-size="6.7" text-anchor="start" fill="#333" font-weight="normal" stroke="#333" stroke-width="0.15" >IL-6</text>
<circle cx="220.6" cy="258.8" r="2.3" fill="#111" stroke="none" stroke-width="0"/>
<circle cx="236.9" cy="258.8" r="2.3" fill="#111" stroke="none" stroke-width="0"/>
<circle cx="253.3" cy="258.8" r="2.3" fill="#111" stroke="none" stroke-width="0"/>
<circle cx="220.6" cy="268.8" r="2.05" fill="none" stroke="#111" stroke-width="0.95"/>
<circle cx="236.9" cy="268.8" r="2.3" fill="#111" stroke="none" stroke-width="0"/>
<circle cx="253.3" cy="268.8" r="2.3" fill="#111" stroke="none" stroke-width="0"/>
<circle cx="220.6" cy="278.5" r="2.05" fill="none" stroke="#111" stroke-width="0.95"/>
<circle cx="236.9" cy="278.5" r="2.05" fill="none" stroke="#111" stroke-width="0.95"/>
<circle cx="253.3" cy="278.5" r="2.3" fill="#111" stroke="none" stroke-width="0"/>
<circle cx="220.6" cy="234.6" r="1.2" fill="#2f963a" stroke="none" stroke-width="0"/>
<circle cx="217.0" cy="242.5" r="1.2" fill="#2f963a" stroke="none" stroke-width="0"/>
<circle cx="224.0" cy="242.8" r="1.2" fill="#2f963a" stroke="none" stroke-width="0"/>
<circle cx="219.5" cy="244.0" r="1.2" fill="#2f963a" stroke="none" stroke-width="0"/>
<circle cx="222.0" cy="244.5" r="1.2" fill="#2f963a" stroke="none" stroke-width="0"/>
<circle cx="216.5" cy="246.0" r="1.2" fill="#2f963a" stroke="none" stroke-width="0"/>
<circle cx="218.5" cy="246.3" r="1.2" fill="#2f963a" stroke="none" stroke-width="0"/>
<circle cx="221.0" cy="246.5" r="1.2" fill="#2f963a" stroke="none" stroke-width="0"/>
<circle cx="223.5" cy="246.2" r="1.2" fill="#2f963a" stroke="none" stroke-width="0"/>
<circle cx="225.0" cy="245.8" r="1.2" fill="#2f963a" stroke="none" stroke-width="0"/>
<circle cx="217.5" cy="247.8" r="1.2" fill="#2f963a" stroke="none" stroke-width="0"/>
<circle cx="220.0" cy="248.0" r="1.2" fill="#2f963a" stroke="none" stroke-width="0"/>
<circle cx="222.5" cy="248.2" r="1.2" fill="#2f963a" stroke="none" stroke-width="0"/>
<circle cx="219.0" cy="248.5" r="1.2" fill="#2f963a" stroke="none" stroke-width="0"/>
<circle cx="224.5" cy="247.5" r="1.2" fill="#2f963a" stroke="none" stroke-width="0"/>
<circle cx="220.6" cy="243.2" r="1.2" fill="#2f963a" stroke="none" stroke-width="0"/>
<line x1="216.3" y1="245.7" x2="225" y2="245.7" stroke="#1a4f22" stroke-width="1.2" />
<line x1="218.3" y1="241.7" x2="223" y2="241.7" stroke="#1a4f22" stroke-width="1.0" />
<circle cx="237.0" cy="184.2" r="1.2" fill="#2f963a" stroke="none" stroke-width="0"/>
<circle cx="235.5" cy="196.3" r="1.2" fill="#2f963a" stroke="none" stroke-width="0"/>
<circle cx="233.0" cy="208.4" r="1.2" fill="#2f963a" stroke="none" stroke-width="0"/>
<circle cx="241.0" cy="208.4" r="1.2" fill="#2f963a" stroke="none" stroke-width="0"/>
<circle cx="236.3" cy="218.5" r="1.2" fill="#2f963a" stroke="none" stroke-width="0"/>
<circle cx="235.2" cy="235.6" r="1.2" fill="#2f963a" stroke="none" stroke-width="0"/>
<circle cx="238.5" cy="236.6" r="1.2" fill="#2f963a" stroke="none" stroke-width="0"/>
<circle cx="237.0" cy="246.3" r="1.2" fill="#2f963a" stroke="none" stroke-width="0"/>
<line x1="232.5" y1="208.4" x2="242.5" y2="208.4" stroke="#1a4f22" stroke-width="1.2" />
<line x1="236.9" y1="192.3" x2="236.9" y2="236.6" stroke="#1a4f22" stroke-width="1.0" />
<line x1="234.5" y1="192.3" x2="239.3" y2="192.3" stroke="#1a4f22" stroke-width="1.0" />
<line x1="234.5" y1="236.6" x2="239.3" y2="236.6" stroke="#1a4f22" stroke-width="1.0" />
<circle cx="253.5" cy="179.2" r="1.2" fill="#2f963a" stroke="none" stroke-width="0"/>
<circle cx="250.8" cy="182.2" r="1.2" fill="#2f963a" stroke="none" stroke-width="0"/>
<circle cx="255.8" cy="182.2" r="1.2" fill="#2f963a" stroke="none" stroke-width="0"/>
<circle cx="253.0" cy="186.0" r="1.2" fill="#2f963a" stroke="none" stroke-width="0"/>
<circle cx="252.0" cy="192.3" r="1.2" fill="#2f963a" stroke="none" stroke-width="0"/>
<circle cx="255.5" cy="196.3" r="1.2" fill="#2f963a" stroke="none" stroke-width="0"/>
<circle cx="250.6" cy="202.3" r="1.2" fill="#2f963a" stroke="none" stroke-width="0"/>
<circle cx="256.5" cy="202.3" r="1.2" fill="#2f963a" stroke="none" stroke-width="0"/>
<circle cx="253.8" cy="220.0" r="1.2" fill="#2f963a" stroke="none" stroke-width="0"/>
<line x1="248" y1="189.2" x2="258.7" y2="189.2" stroke="#1a4f22" stroke-width="1.2" />
<line x1="253.5" y1="181.2" x2="253.5" y2="202.3" stroke="#1a4f22" stroke-width="1.0" />
<line x1="250.6" y1="181.2" x2="256.7" y2="181.2" stroke="#1a4f22" stroke-width="1.0" />
<line x1="250.6" y1="202.3" x2="256.7" y2="202.3" stroke="#1a4f22" stroke-width="1.0" />
<polyline points="236.5,174.1 236.5,169.0 253.2,169.0 253.2,174.1" stroke="#4a4a4a" stroke-width="1.05" fill="none" />
<text x="245" y="168.2" font-size="6.2" text-anchor="middle" fill="#444" font-weight="normal" stroke="#444" stroke-width="0.15" >*</text>
<text x="280.2" y="150.0" font-size="10.5" text-anchor="start" fill="#111" font-weight="bold" >E</text>
<text x="366.8" y="161" font-size="8.7" text-anchor="middle" fill="#222" stroke="#222" stroke-width="0.15">CD4+ T<tspan font-size="5.5" dy="1.8">N</tspan><tspan dy="-1.8">/µl and IL-6</tspan></text>
<text x="376" y="176.4" font-size="6.3" text-anchor="start" fill="#333" font-weight="normal" stroke="#333" stroke-width="0.15"  textLength="45.5" lengthAdjust="spacingAndGlyphs">slope = −0.0047</text>
<line x1="305.2" y1="167.0" x2="305.2" y2="249.9" stroke="#3a3a3a" stroke-width="1.2" />
<line x1="304.59999999999997" y1="249.4" x2="362" y2="249.4" stroke="#3a3a3a" stroke-width="1.25" />
<line x1="368.5" y1="249.4" x2="428.3" y2="249.4" stroke="#3a3a3a" stroke-width="1.25" />
<line x1="360.7" y1="251.1" x2="364.7" y2="247.1" stroke="#3a3a3a" stroke-width="1.05" />
<line x1="366.2" y1="251.4" x2="369.9" y2="247.1" stroke="#3a3a3a" stroke-width="1.05" />
<line x1="302.2" y1="249.4" x2="305.2" y2="249.4" stroke="#3a3a3a" stroke-width="1" />
<text x="299.2" y="251.70000000000002" font-size="6.4" text-anchor="end" fill="#4a4a4a" font-weight="normal" stroke="#4a4a4a" stroke-width="0.15" >0</text>
<line x1="302.2" y1="233.12" x2="305.2" y2="233.12" stroke="#3a3a3a" stroke-width="1" />
<text x="299.2" y="235.42000000000002" font-size="6.4" text-anchor="end" fill="#4a4a4a" font-weight="normal" stroke="#4a4a4a" stroke-width="0.15" >2</text>
<line x1="302.2" y1="216.84" x2="305.2" y2="216.84" stroke="#3a3a3a" stroke-width="1" />
<text x="299.2" y="219.14000000000001" font-size="6.4" text-anchor="end" fill="#4a4a4a" font-weight="normal" stroke="#4a4a4a" stroke-width="0.15" >4</text>
<line x1="302.2" y1="200.56" x2="305.2" y2="200.56" stroke="#3a3a3a" stroke-width="1" />
<text x="299.2" y="202.86" font-size="6.4" text-anchor="end" fill="#4a4a4a" font-weight="normal" stroke="#4a4a4a" stroke-width="0.15" >6</text>
<line x1="302.2" y1="184.28" x2="305.2" y2="184.28" stroke="#3a3a3a" stroke-width="1" />
<text x="299.2" y="186.58" font-size="6.4" text-anchor="end" fill="#4a4a4a" font-weight="normal" stroke="#4a4a4a" stroke-width="0.15" >8</text>
<line x1="302.2" y1="168.0" x2="305.2" y2="168.0" stroke="#3a3a3a" stroke-width="1" />
<text x="299.2" y="170.3" font-size="6.4" text-anchor="end" fill="#4a4a4a" font-weight="normal" stroke="#4a4a4a" stroke-width="0.15" >10</text>
<line x1="303.4" y1="241.26" x2="305.2" y2="241.26" stroke="#3a3a3a" stroke-width="0.8" />
<line x1="303.4" y1="224.98000000000002" x2="305.2" y2="224.98000000000002" stroke="#3a3a3a" stroke-width="0.8" />
<line x1="303.4" y1="208.7" x2="305.2" y2="208.7" stroke="#3a3a3a" stroke-width="0.8" />
<line x1="303.4" y1="192.42000000000002" x2="305.2" y2="192.42000000000002" stroke="#3a3a3a" stroke-width="0.8" />
<line x1="303.4" y1="176.14" x2="305.2" y2="176.14" stroke="#3a3a3a" stroke-width="0.8" />
<line x1="305.2" y1="249.4" x2="305.2" y2="252.4" stroke="#3a3a3a" stroke-width="1" />
<text x="305.2" y="259.9" font-size="6.3" text-anchor="middle" fill="#444" font-weight="normal" stroke="#444" stroke-width="0.15" >0</text>
<line x1="333.2" y1="249.4" x2="333.2" y2="252.4" stroke="#3a3a3a" stroke-width="1" />
<text x="333.2" y="259.9" font-size="6.3" text-anchor="middle" fill="#444" font-weight="normal" stroke="#444" stroke-width="0.15" >50</text>
<line x1="389.2" y1="249.4" x2="389.2" y2="252.4" stroke="#3a3a3a" stroke-width="1" />
<text x="389.2" y="259.9" font-size="6.3" text-anchor="middle" fill="#444" font-weight="normal" stroke="#444" stroke-width="0.15" >250</text>
<line x1="426.4" y1="249.4" x2="426.4" y2="252.4" stroke="#3a3a3a" stroke-width="1" />
<text x="426.4" y="259.9" font-size="6.3" text-anchor="middle" fill="#444" font-weight="normal" stroke="#444" stroke-width="0.15" >500</text>
<text x="364.1" y="260.2" font-size="6.4" text-anchor="middle" fill="#444" font-weight="normal" stroke="#444" stroke-width="0.15" >100</text>
<text x="367" y="272.4" font-size="7.2" text-anchor="middle" fill="#333" font-weight="normal" stroke="#333" stroke-width="0.15"  textLength="41.7" lengthAdjust="spacingAndGlyphs">CD4 Tnaive/µl</text>
<text x="286.3" y="207.4" font-size="8.2" text-anchor="middle" fill="#333" font-weight="normal" stroke="#333" stroke-width="0.15" transform="rotate(-90 286.3 207.4)"  textLength="35.6" lengthAdjust="spacingAndGlyphs">IL-6 (ng/ml)</text>
<polyline points="308.5,204.4 335.0,207.5 361.5,210.6" stroke="#9a9a9a" stroke-width="0.9" fill="none" />
<polyline points="308.5,229.2 335.0,229.6 361.5,230.0" stroke="#9a9a9a" stroke-width="0.9" fill="none" stroke-dasharray="2,0.6"/>
<line x1="308.5" y1="217.1" x2="361.5" y2="220.6" stroke="#b0203a" stroke-width="1.3" />
<polyline points="367.7,209.8 373.0,211.8 378.5,212.5 390.0,211.5 402.0,209.5 414.3,207.1" stroke="#9a9a9a" stroke-width="0.9" fill="none" />
<polyline points="367.7,229.2 376.0,233.5 386.5,240.8 393.0,245.5 400.8,249.2" stroke="#9a9a9a" stroke-width="0.9" fill="none" />
<line x1="367.7" y1="219.8" x2="414.3" y2="232.2" stroke="#b0203a" stroke-width="1.3" />
<rect x="307.0" y="236.6" width="3" height="3" fill="#111"/>
<rect x="311.8" y="205.1" width="3" height="3" fill="#111"/>
<rect x="314.5" y="219.1" width="3" height="3" fill="#111"/>
<rect x="316.9" y="193.5" width="3" height="3" fill="#111"/>
<rect x="317.7" y="177.9" width="3" height="3" fill="#111"/>
<rect x="319.1" y="224.5" width="3" height="3" fill="#111"/>
<rect x="321.2" y="247.4" width="3" height="3" fill="#111"/>
<rect x="329.8" y="225.8" width="3" height="3" fill="#111"/>
<rect x="333.9" y="215.9" width="3" height="3" fill="#111"/>
<rect x="334.7" y="222.6" width="3" height="3" fill="#111"/>
<rect x="343.3" y="184.6" width="3" height="3" fill="#111"/>
<rect x="344.7" y="210.2" width="3" height="3" fill="#111"/>
<rect x="353.3" y="219.1" width="3" height="3" fill="#111"/>
<rect x="368.1" y="234.7" width="3" height="3" fill="#111"/>
<rect x="368.4" y="239.3" width="3" height="3" fill="#111"/>
<rect x="372.9" y="196.2" width="3" height="3" fill="#111"/>
<rect x="376.4" y="247.4" width="3" height="3" fill="#111"/>
<rect x="397.7" y="231.7" width="3" height="3" fill="#111"/>
<rect x="405.8" y="216.9" width="3" height="3" fill="#111"/>
<rect x="412.8" y="231.7" width="3" height="3" fill="#111"/>
<text x="7.2" y="307.3" font-size="10.5" text-anchor="start" fill="#111" font-weight="bold" >F</text>
<text x="137.6" y="318" font-size="8.7" text-anchor="middle" fill="#222" font-weight="normal" stroke="#222" stroke-width="0.15"  textLength="124" lengthAdjust="spacingAndGlyphs">Serum cytokine profile by OLINK</text>
<line x1="42.0" y1="321.9" x2="42.0" y2="433.1" stroke="#3a3a3a" stroke-width="1.25" />
<line x1="41.4" y1="432.5" x2="234" y2="432.5" stroke="#3a3a3a" stroke-width="1.25" />
<line x1="38.8" y1="323.4" x2="42.0" y2="323.4" stroke="#3a3a3a" stroke-width="1.05" />
<text x="35.0" y="325.59999999999997" font-size="6.5" text-anchor="end" fill="#4a4a4a" font-weight="normal" stroke="#4a4a4a" stroke-width="0.15" >0,3</text>
<line x1="38.8" y1="340.6" x2="42.0" y2="340.6" stroke="#3a3a3a" stroke-width="1.05" />
<text x="35.0" y="342.8" font-size="6.5" text-anchor="end" fill="#4a4a4a" font-weight="normal" stroke="#4a4a4a" stroke-width="0.15" >0,2</text>
<line x1="38.8" y1="357.8" x2="42.0" y2="357.8" stroke="#3a3a3a" stroke-width="1.05" />
<text x="35.0" y="360.0" font-size="6.5" text-anchor="end" fill="#4a4a4a" font-weight="normal" stroke="#4a4a4a" stroke-width="0.15" >0,1</text>
<line x1="38.8" y1="375.0" x2="42.0" y2="375.0" stroke="#3a3a3a" stroke-width="1.05" />
<text x="35.0" y="377.2" font-size="6.5" text-anchor="end" fill="#4a4a4a" font-weight="normal" stroke="#4a4a4a" stroke-width="0.15" >0</text>
<line x1="38.8" y1="392.2" x2="42.0" y2="392.2" stroke="#3a3a3a" stroke-width="1.05" />
<text x="35.0" y="394.4" font-size="6.5" text-anchor="end" fill="#4a4a4a" font-weight="normal" stroke="#4a4a4a" stroke-width="0.15" >–0,1</text>
<line x1="38.8" y1="409.4" x2="42.0" y2="409.4" stroke="#3a3a3a" stroke-width="1.05" />
<text x="35.0" y="411.59999999999997" font-size="6.5" text-anchor="end" fill="#4a4a4a" font-weight="normal" stroke="#4a4a4a" stroke-width="0.15" >–0,2</text>
<line x1="38.8" y1="426.6" x2="42.0" y2="426.6" stroke="#3a3a3a" stroke-width="1.05" />
<text x="35.0" y="428.8" font-size="6.5" text-anchor="end" fill="#4a4a4a" font-weight="normal" stroke="#4a4a4a" stroke-width="0.15" >–0,3</text>
<line x1="50.650000000000006" y1="432.5" x2="50.650000000000006" y2="435.5" stroke="#3a3a3a" stroke-width="1.05" />
<text x="50.650000000000006" y="443.8" font-size="6.5" text-anchor="middle" fill="#4a4a4a" font-weight="normal" stroke="#4a4a4a" stroke-width="0.15" >–0,3</text>
<line x1="80.65" y1="432.5" x2="80.65" y2="435.5" stroke="#3a3a3a" stroke-width="1.05" />
<text x="80.65" y="443.8" font-size="6.5" text-anchor="middle" fill="#4a4a4a" font-weight="normal" stroke="#4a4a4a" stroke-width="0.15" >–0,2</text>
<line x1="110.65" y1="432.5" x2="110.65" y2="435.5" stroke="#3a3a3a" stroke-width="1.05" />
<text x="110.65" y="443.8" font-size="6.5" text-anchor="middle" fill="#4a4a4a" font-weight="normal" stroke="#4a4a4a" stroke-width="0.15" >–0,1</text>
<line x1="140.65" y1="432.5" x2="140.65" y2="435.5" stroke="#3a3a3a" stroke-width="1.05" />
<text x="140.65" y="443.8" font-size="6.5" text-anchor="middle" fill="#4a4a4a" font-weight="normal" stroke="#4a4a4a" stroke-width="0.15" >0</text>
<line x1="170.65" y1="432.5" x2="170.65" y2="435.5" stroke="#3a3a3a" stroke-width="1.05" />
<text x="170.65" y="443.8" font-size="6.5" text-anchor="middle" fill="#4a4a4a" font-weight="normal" stroke="#4a4a4a" stroke-width="0.15" >0,1</text>
<line x1="200.65" y1="432.5" x2="200.65" y2="435.5" stroke="#3a3a3a" stroke-width="1.05" />
<text x="200.65" y="443.8" font-size="6.5" text-anchor="middle" fill="#4a4a4a" font-weight="normal" stroke="#4a4a4a" stroke-width="0.15" >0,2</text>
<line x1="230.65" y1="432.5" x2="230.65" y2="435.5" stroke="#3a3a3a" stroke-width="1.05" />
<text x="230.65" y="443.8" font-size="6.5" text-anchor="middle" fill="#4a4a4a" font-weight="normal" stroke="#4a4a4a" stroke-width="0.15" >0,3</text>
<text x="138.2" y="455.5" font-size="7.2" text-anchor="middle" fill="#333" font-weight="normal" stroke="#333" stroke-width="0.15"  textLength="98.5" lengthAdjust="spacingAndGlyphs">PC1 (22,93% variance explained)</text>
<text x="21.2" y="379" font-size="7.2" text-anchor="middle" fill="#333" font-weight="normal" stroke="#333" stroke-width="0.15" transform="rotate(-90 21.2 379)"  textLength="102.4" lengthAdjust="spacingAndGlyphs">PC2 (16,58% variance explained)</text>
<circle cx="50.6" cy="371.1" r="1.25" fill="#3597c4" stroke="none" stroke-width="0"/>
<circle cx="80.8" cy="374.9" r="1.25" fill="#3597c4" stroke="none" stroke-width="0"/>
<circle cx="65.8" cy="387.6" r="1.25" fill="#3597c4" stroke="none" stroke-width="0"/>
<circle cx="73.8" cy="389.1" r="1.25" fill="#3597c4" stroke="none" stroke-width="0"/>
<circle cx="98.8" cy="369.0" r="1.25" fill="#3597c4" stroke="none" stroke-width="0"/>
<circle cx="114.7" cy="370.3" r="1.25" fill="#3597c4" stroke="none" stroke-width="0"/>
<circle cx="115.1" cy="363.7" r="1.25" fill="#3597c4" stroke="none" stroke-width="0"/>
<circle cx="104.5" cy="379.6" r="1.25" fill="#3597c4" stroke="none" stroke-width="0"/>
<circle cx="95.0" cy="385.1" r="1.25" fill="#3597c4" stroke="none" stroke-width="0"/>
<circle cx="112.6" cy="384.4" r="1.25" fill="#3597c4" stroke="none" stroke-width="0"/>
<circle cx="125.3" cy="380.2" r="1.25" fill="#3597c4" stroke="none" stroke-width="0"/>
<circle cx="128.0" cy="388.7" r="1.25" fill="#3597c4" stroke="none" stroke-width="0"/>
<circle cx="132.7" cy="387.0" r="1.25" fill="#3597c4" stroke="none" stroke-width="0"/>
<circle cx="135.2" cy="389.1" r="1.25" fill="#3597c4" stroke="none" stroke-width="0"/>
<circle cx="138.4" cy="386.1" r="1.25" fill="#3597c4" stroke="none" stroke-width="0"/>
<circle cx="143.7" cy="383.4" r="1.25" fill="#3597c4" stroke="none" stroke-width="0"/>
<circle cx="147.9" cy="383.4" r="1.25" fill="#3597c4" stroke="none" stroke-width="0"/>
<circle cx="143.2" cy="361.2" r="1.25" fill="#3597c4" stroke="none" stroke-width="0"/>
<circle cx="145.1" cy="363.3" r="1.25" fill="#3597c4" stroke="none" stroke-width="0"/>
<circle cx="144.1" cy="369.0" r="1.25" fill="#3597c4" stroke="none" stroke-width="0"/>
<circle cx="147.9" cy="370.3" r="1.25" fill="#3597c4" stroke="none" stroke-width="0"/>
<circle cx="149.4" cy="372.8" r="1.25" fill="#3597c4" stroke="none" stroke-width="0"/>
<circle cx="122.1" cy="396.7" r="1.25" fill="#3597c4" stroke="none" stroke-width="0"/>
<circle cx="122.9" cy="401.3" r="1.25" fill="#3597c4" stroke="none" stroke-width="0"/>
<circle cx="128.4" cy="401.3" r="1.25" fill="#3597c4" stroke="none" stroke-width="0"/>
<circle cx="128.8" cy="399.2" r="1.25" fill="#3597c4" stroke="none" stroke-width="0"/>
<circle cx="131.0" cy="393.3" r="1.25" fill="#3597c4" stroke="none" stroke-width="0"/>
<circle cx="130.3" cy="407.7" r="1.25" fill="#3597c4" stroke="none" stroke-width="0"/>
<circle cx="100.7" cy="418.7" r="1.25" fill="#3597c4" stroke="none" stroke-width="0"/>
<circle cx="117.2" cy="418.3" r="1.25" fill="#3597c4" stroke="none" stroke-width="0"/>
<circle cx="120.4" cy="414.5" r="1.25" fill="#3597c4" stroke="none" stroke-width="0"/>
<circle cx="125.7" cy="417.2" r="1.25" fill="#3597c4" stroke="none" stroke-width="0"/>
<circle cx="142.5" cy="360.7" r="1.25" fill="#3597c4" stroke="none" stroke-width="0"/>
<circle cx="145.3" cy="363.3" r="1.25" fill="#3597c4" stroke="none" stroke-width="0"/>
<circle cx="159.5" cy="356.5" r="1.25" fill="#3597c4" stroke="none" stroke-width="0"/>
<circle cx="156.9" cy="365.4" r="1.25" fill="#3597c4" stroke="none" stroke-width="0"/>
<circle cx="150.2" cy="372.8" r="1.25" fill="#3597c4" stroke="none" stroke-width="0"/>
<circle cx="153.8" cy="374.5" r="1.25" fill="#3597c4" stroke="none" stroke-width="0"/>
<circle cx="155.2" cy="371.7" r="1.25" fill="#3597c4" stroke="none" stroke-width="0"/>
<circle cx="160.5" cy="373.2" r="1.25" fill="#3597c4" stroke="none" stroke-width="0"/>
<circle cx="178.1" cy="360.5" r="1.25" fill="#3597c4" stroke="none" stroke-width="0"/>
<circle cx="174.9" cy="374.5" r="1.25" fill="#3597c4" stroke="none" stroke-width="0"/>
<circle cx="183.4" cy="375.3" r="1.25" fill="#3597c4" stroke="none" stroke-width="0"/>
<circle cx="152.7" cy="382.9" r="1.25" fill="#3597c4" stroke="none" stroke-width="0"/>
<circle cx="154.4" cy="384.4" r="1.25" fill="#3597c4" stroke="none" stroke-width="0"/>
<circle cx="156.5" cy="385.1" r="1.25" fill="#3597c4" stroke="none" stroke-width="0"/>
<circle cx="163.3" cy="387.0" r="1.25" fill="#3597c4" stroke="none" stroke-width="0"/>
<circle cx="168.6" cy="383.4" r="1.25" fill="#3597c4" stroke="none" stroke-width="0"/>
<circle cx="173.2" cy="387.0" r="1.25" fill="#3597c4" stroke="none" stroke-width="0"/>
<circle cx="177.0" cy="387.0" r="1.25" fill="#3597c4" stroke="none" stroke-width="0"/>
<circle cx="181.7" cy="381.7" r="1.25" fill="#3597c4" stroke="none" stroke-width="0"/>
<circle cx="188.2" cy="385.1" r="1.25" fill="#3597c4" stroke="none" stroke-width="0"/>
<circle cx="196.1" cy="380.8" r="1.25" fill="#3597c4" stroke="none" stroke-width="0"/>
<circle cx="199.2" cy="382.9" r="1.25" fill="#3597c4" stroke="none" stroke-width="0"/>
<circle cx="155.9" cy="389.7" r="1.25" fill="#3597c4" stroke="none" stroke-width="0"/>
<circle cx="155.9" cy="391.8" r="1.25" fill="#3597c4" stroke="none" stroke-width="0"/>
<circle cx="159.5" cy="393.3" r="1.25" fill="#3597c4" stroke="none" stroke-width="0"/>
<circle cx="166.4" cy="391.4" r="1.25" fill="#3597c4" stroke="none" stroke-width="0"/>
<circle cx="176.4" cy="392.3" r="1.25" fill="#3597c4" stroke="none" stroke-width="0"/>
<circle cx="172.8" cy="395.4" r="1.25" fill="#3597c4" stroke="none" stroke-width="0"/>
<circle cx="171.3" cy="397.5" r="1.25" fill="#3597c4" stroke="none" stroke-width="0"/>
<circle cx="155.4" cy="404.1" r="1.25" fill="#3597c4" stroke="none" stroke-width="0"/>
<circle cx="224.2" cy="389.7" r="1.25" fill="#3597c4" stroke="none" stroke-width="0"/>
<circle cx="76.0" cy="360.1" r="1.25" fill="#a5102c" stroke="none" stroke-width="0"/>
<circle cx="96.7" cy="360.7" r="1.25" fill="#a5102c" stroke="none" stroke-width="0"/>
<circle cx="102.8" cy="366.9" r="1.25" fill="#a5102c" stroke="none" stroke-width="0"/>
<circle cx="107.7" cy="362.2" r="1.25" fill="#a5102c" stroke="none" stroke-width="0"/>
<circle cx="113.6" cy="362.6" r="1.25" fill="#a5102c" stroke="none" stroke-width="0"/>
<circle cx="114.5" cy="366.4" r="1.25" fill="#a5102c" stroke="none" stroke-width="0"/>
<circle cx="114.0" cy="358.6" r="1.25" fill="#a5102c" stroke="none" stroke-width="0"/>
<circle cx="117.8" cy="358.0" r="1.25" fill="#a5102c" stroke="none" stroke-width="0"/>
<circle cx="120.8" cy="357.6" r="1.25" fill="#a5102c" stroke="none" stroke-width="0"/>
<circle cx="123.1" cy="354.8" r="1.25" fill="#a5102c" stroke="none" stroke-width="0"/>
<circle cx="125.7" cy="355.4" r="1.25" fill="#a5102c" stroke="none" stroke-width="0"/>
<circle cx="128.4" cy="359.0" r="1.25" fill="#a5102c" stroke="none" stroke-width="0"/>
<circle cx="131.0" cy="359.5" r="1.25" fill="#a5102c" stroke="none" stroke-width="0"/>
<circle cx="132.4" cy="355.9" r="1.25" fill="#a5102c" stroke="none" stroke-width="0"/>
<circle cx="139.0" cy="351.6" r="1.25" fill="#a5102c" stroke="none" stroke-width="0"/>
<circle cx="140.5" cy="352.7" r="1.25" fill="#a5102c" stroke="none" stroke-width="0"/>
<circle cx="143.0" cy="351.6" r="1.25" fill="#a5102c" stroke="none" stroke-width="0"/>
<circle cx="142.6" cy="356.5" r="1.25" fill="#a5102c" stroke="none" stroke-width="0"/>
<circle cx="148.5" cy="353.1" r="1.25" fill="#a5102c" stroke="none" stroke-width="0"/>
<circle cx="149.0" cy="358.6" r="1.25" fill="#a5102c" stroke="none" stroke-width="0"/>
<circle cx="154.2" cy="349.5" r="1.25" fill="#a5102c" stroke="none" stroke-width="0"/>
<circle cx="149.5" cy="358.6" r="1.25" fill="#a5102c" stroke="none" stroke-width="0"/>
<circle cx="151.6" cy="359.0" r="1.25" fill="#a5102c" stroke="none" stroke-width="0"/>
<circle cx="159.5" cy="360.1" r="1.25" fill="#a5102c" stroke="none" stroke-width="0"/>
<circle cx="162.8" cy="358.0" r="1.25" fill="#a5102c" stroke="none" stroke-width="0"/>
<circle cx="165.8" cy="361.8" r="1.25" fill="#a5102c" stroke="none" stroke-width="0"/>
<circle cx="163.7" cy="365.0" r="1.25" fill="#a5102c" stroke="none" stroke-width="0"/>
<circle cx="174.3" cy="363.7" r="1.25" fill="#a5102c" stroke="none" stroke-width="0"/>
<circle cx="177.0" cy="355.2" r="1.25" fill="#a5102c" stroke="none" stroke-width="0"/>
<circle cx="179.1" cy="353.8" r="1.25" fill="#a5102c" stroke="none" stroke-width="0"/>
<circle cx="178.0" cy="352.7" r="1.25" fill="#a5102c" stroke="none" stroke-width="0"/>
<circle cx="239.1" cy="325.3" r="1.9" fill="#3597c4" stroke="none" stroke-width="0"/>
<text x="244.5" y="327.6" font-size="6.4" text-anchor="start" fill="#333" font-weight="normal" stroke="#333" stroke-width="0.15" >R/R</text>
<circle cx="239.1" cy="335.2" r="1.9" fill="#a5102c" stroke="none" stroke-width="0"/>
<text x="244.5" y="337.5" font-size="6.4" text-anchor="start" fill="#333" font-weight="normal" stroke="#333" stroke-width="0.15" >CR</text>
<text x="269.8" y="306.9" font-size="10.5" text-anchor="start" fill="#111" font-weight="bold" >G</text>
<text x="382.6" y="317.2" font-size="8.7" text-anchor="middle" fill="#222" font-weight="normal" stroke="#222" stroke-width="0.15"  textLength="116.5" lengthAdjust="spacingAndGlyphs">Differentially expressed from F</text>
<line x1="295" y1="324.84999999999997" x2="295" y2="432.9" stroke="#3a3a3a" stroke-width="1.2" />
<line x1="294.4" y1="432.4" x2="470.5" y2="432.4" stroke="#3a3a3a" stroke-width="1.2" />
<line x1="291.8" y1="432.4" x2="295" y2="432.4" stroke="#3a3a3a" stroke-width="1.05" />
<text x="289.2" y="434.7" font-size="6.4" text-anchor="end" fill="#4a4a4a" font-weight="normal" stroke="#4a4a4a" stroke-width="0.15" >0</text>
<line x1="291.8" y1="397.04999999999995" x2="295" y2="397.04999999999995" stroke="#3a3a3a" stroke-width="1.05" />
<text x="289.2" y="399.34999999999997" font-size="6.4" text-anchor="end" fill="#4a4a4a" font-weight="normal" stroke="#4a4a4a" stroke-width="0.15" >5</text>
<line x1="291.8" y1="361.7" x2="295" y2="361.7" stroke="#3a3a3a" stroke-width="1.05" />
<text x="289.2" y="364.0" font-size="6.4" text-anchor="end" fill="#4a4a4a" font-weight="normal" stroke="#4a4a4a" stroke-width="0.15" >10</text>
<line x1="291.8" y1="326.34999999999997" x2="295" y2="326.34999999999997" stroke="#3a3a3a" stroke-width="1.05" />
<text x="289.2" y="328.65" font-size="6.4" text-anchor="end" fill="#4a4a4a" font-weight="normal" stroke="#4a4a4a" stroke-width="0.15" >15</text>
<line x1="312.1" y1="432.4" x2="312.1" y2="435.4" stroke="#3a3a3a" stroke-width="1" />
<text x="312.1" y="442.9" font-size="6.3" text-anchor="middle" fill="#444" font-weight="normal" stroke="#444" stroke-width="0.15" >–2</text>
<line x1="346.7" y1="432.4" x2="346.7" y2="435.4" stroke="#3a3a3a" stroke-width="1" />
<text x="346.7" y="442.9" font-size="6.3" text-anchor="middle" fill="#444" font-weight="normal" stroke="#444" stroke-width="0.15" >–1</text>
<line x1="381.3" y1="432.4" x2="381.3" y2="435.4" stroke="#3a3a3a" stroke-width="1" />
<text x="381.3" y="442.9" font-size="6.3" text-anchor="middle" fill="#444" font-weight="normal" stroke="#444" stroke-width="0.15" >0</text>
<line x1="415.90000000000003" y1="432.4" x2="415.90000000000003" y2="435.4" stroke="#3a3a3a" stroke-width="1" />
<text x="415.90000000000003" y="442.9" font-size="6.3" text-anchor="middle" fill="#444" font-weight="normal" stroke="#444" stroke-width="0.15" >1</text>
<line x1="450.5" y1="432.4" x2="450.5" y2="435.4" stroke="#3a3a3a" stroke-width="1" />
<text x="450.5" y="442.9" font-size="6.3" text-anchor="middle" fill="#444" font-weight="normal" stroke="#444" stroke-width="0.15" >2</text>
<line x1="381.8" y1="321.5" x2="381.8" y2="432.4" stroke="#888" stroke-width="0.9" />
<line x1="296.5" y1="423.5" x2="468" y2="423.5" stroke="#444" stroke-width="1.0" stroke-dasharray="3.1,2.3"/>
<line x1="294.8" y1="432.4" x2="294.8" y2="434.4" stroke="#3a3a3a" stroke-width="0.8" />
<line x1="329.4" y1="432.4" x2="329.4" y2="434.4" stroke="#3a3a3a" stroke-width="0.8" />
<line x1="364.0" y1="432.4" x2="364.0" y2="434.4" stroke="#3a3a3a" stroke-width="0.8" />
<line x1="398.6" y1="432.4" x2="398.6" y2="434.4" stroke="#3a3a3a" stroke-width="0.8" />
<line x1="433.20000000000005" y1="432.4" x2="433.20000000000005" y2="434.4" stroke="#3a3a3a" stroke-width="0.8" />
<line x1="467.8" y1="432.4" x2="467.8" y2="434.4" stroke="#3a3a3a" stroke-width="0.8" />
<text x="276.3" y="377.4" font-size="7.6" text-anchor="middle" fill="#333" font-weight="normal" stroke="#333" stroke-width="0.15" transform="rotate(-90 276.3 377.4)"  textLength="34" lengthAdjust="spacingAndGlyphs">Adj.P-value</text>
<text x="382.5" y="455.3" font-size="7.9" text-anchor="middle" fill="#222" font-weight="normal" stroke="#222" stroke-width="0.15"  textLength="35.5" lengthAdjust="spacingAndGlyphs">Fold-change</text>
<text x="302.5" y="462.8" font-size="6.6" text-anchor="start" fill="#c8305a" font-weight="normal" stroke="#c8305a" stroke-width="0.15"  textLength="42.5" lengthAdjust="spacingAndGlyphs">higher in cured</text>
<text x="419.8" y="463.3" font-size="6.6" text-anchor="start" fill="#4570a5" font-weight="normal" stroke="#4570a5" stroke-width="0.15"  textLength="43.2" lengthAdjust="spacingAndGlyphs">higher in active</text>
<line x1="350.5" y1="461" x2="414.5" y2="461" stroke="#222" stroke-width="1" />
<path d="M349,461 L354.5,458.6 L354.5,463.4 Z" fill="#222"/>
<path d="M416.5,461 L411,458.6 L411,463.4 Z" fill="#222"/>
<circle cx="328.0" cy="335.8" r="1.6" fill="#111" stroke="none" stroke-width="0"/>
<circle cx="312.0" cy="363.0" r="1.6" fill="#111" stroke="none" stroke-width="0"/>
<circle cx="323.8" cy="375.0" r="1.6" fill="#111" stroke="none" stroke-width="0"/>
<circle cx="337.0" cy="387.0" r="1.6" fill="#111" stroke="none" stroke-width="0"/>
<circle cx="353.8" cy="362.0" r="1.6" fill="#111" stroke="none" stroke-width="0"/>
<circle cx="353.2" cy="372.5" r="1.6" fill="#111" stroke="none" stroke-width="0"/>
<circle cx="352.5" cy="379.5" r="1.6" fill="#111" stroke="none" stroke-width="0"/>
<circle cx="352.9" cy="380.4" r="1.6" fill="#111" stroke="none" stroke-width="0"/>
<circle cx="360.8" cy="387.0" r="1.6" fill="#111" stroke="none" stroke-width="0"/>
<circle cx="365.5" cy="388.2" r="1.6" fill="#111" stroke="none" stroke-width="0"/>
<circle cx="358.7" cy="391.7" r="1.6" fill="#111" stroke="none" stroke-width="0"/>
<circle cx="351.4" cy="394.3" r="1.6" fill="#111" stroke="none" stroke-width="0"/>
<circle cx="363.6" cy="395.2" r="1.6" fill="#111" stroke="none" stroke-width="0"/>
<circle cx="353.1" cy="404.3" r="1.6" fill="#111" stroke="none" stroke-width="0"/>
<circle cx="364.3" cy="404.3" r="1.6" fill="#111" stroke="none" stroke-width="0"/>
<circle cx="373.6" cy="404.3" r="1.6" fill="#111" stroke="none" stroke-width="0"/>
<circle cx="349.3" cy="415.3" r="1.6" fill="#111" stroke="none" stroke-width="0"/>
<circle cx="351.7" cy="415.6" r="1.6" fill="#111" stroke="none" stroke-width="0"/>
<circle cx="354.3" cy="415.0" r="1.6" fill="#111" stroke="none" stroke-width="0"/>
<circle cx="358.1" cy="417.4" r="1.6" fill="#111" stroke="none" stroke-width="0"/>
<circle cx="357.5" cy="420.3" r="1.6" fill="#111" stroke="none" stroke-width="0"/>
<circle cx="355.0" cy="424.7" r="1.6" fill="#111" stroke="none" stroke-width="0"/>
<circle cx="365.9" cy="413.3" r="1.6" fill="#111" stroke="none" stroke-width="0"/>
<circle cx="368.0" cy="413.9" r="1.6" fill="#111" stroke="none" stroke-width="0"/>
<circle cx="368.6" cy="418.0" r="1.6" fill="#111" stroke="none" stroke-width="0"/>
<circle cx="364.0" cy="418.6" r="1.6" fill="#111" stroke="none" stroke-width="0"/>
<circle cx="370.1" cy="418.9" r="1.6" fill="#111" stroke="none" stroke-width="0"/>
<circle cx="373.9" cy="415.6" r="1.6" fill="#111" stroke="none" stroke-width="0"/>
<circle cx="374.8" cy="418.6" r="1.6" fill="#111" stroke="none" stroke-width="0"/>
<circle cx="366.3" cy="423.2" r="1.6" fill="#111" stroke="none" stroke-width="0"/>
<circle cx="367.5" cy="425.0" r="1.6" fill="#111" stroke="none" stroke-width="0"/>
<circle cx="369.8" cy="426.7" r="1.6" fill="#111" stroke="none" stroke-width="0"/>
<circle cx="371.5" cy="427.9" r="1.6" fill="#111" stroke="none" stroke-width="0"/>
<circle cx="373.9" cy="429.1" r="1.6" fill="#111" stroke="none" stroke-width="0"/>
<circle cx="375.6" cy="425.0" r="1.6" fill="#111" stroke="none" stroke-width="0"/>
<circle cx="377.4" cy="427.3" r="1.6" fill="#111" stroke="none" stroke-width="0"/>
<circle cx="376.2" cy="430.2" r="1.6" fill="#111" stroke="none" stroke-width="0"/>
<circle cx="379.1" cy="431.4" r="1.6" fill="#111" stroke="none" stroke-width="0"/>
<circle cx="380.9" cy="432.0" r="1.6" fill="#111" stroke="none" stroke-width="0"/>
<circle cx="383.8" cy="427.9" r="1.6" fill="#111" stroke="none" stroke-width="0"/>
<circle cx="386.1" cy="428.5" r="1.6" fill="#111" stroke="none" stroke-width="0"/>
<circle cx="388.5" cy="426.7" r="1.6" fill="#111" stroke="none" stroke-width="0"/>
<circle cx="383.2" cy="431.4" r="1.6" fill="#111" stroke="none" stroke-width="0"/>
<circle cx="368.5" cy="421.0" r="1.6" fill="#111" stroke="none" stroke-width="0"/>
<circle cx="372.5" cy="430.5" r="1.6" fill="#111" stroke="none" stroke-width="0"/>
<circle cx="461.3" cy="326.1" r="1.6" fill="#111" stroke="none" stroke-width="0"/>
<circle cx="437.3" cy="375.5" r="1.6" fill="#111" stroke="none" stroke-width="0"/>
<circle cx="433.8" cy="382.4" r="1.6" fill="#111" stroke="none" stroke-width="0"/>
<circle cx="400.2" cy="375.5" r="1.6" fill="#111" stroke="none" stroke-width="0"/>
<circle cx="408.9" cy="386.0" r="1.6" fill="#111" stroke="none" stroke-width="0"/>
<circle cx="409.3" cy="391.8" r="1.6" fill="#111" stroke="none" stroke-width="0"/>
<circle cx="414.3" cy="393.2" r="1.6" fill="#111" stroke="none" stroke-width="0"/>
<circle cx="402.2" cy="404.2" r="1.6" fill="#111" stroke="none" stroke-width="0"/>
<circle cx="406.2" cy="404.2" r="1.6" fill="#111" stroke="none" stroke-width="0"/>
<circle cx="408.0" cy="404.2" r="1.6" fill="#111" stroke="none" stroke-width="0"/>
<circle cx="418.1" cy="404.0" r="1.6" fill="#111" stroke="none" stroke-width="0"/>
<circle cx="419.7" cy="404.5" r="1.6" fill="#111" stroke="none" stroke-width="0"/>
<circle cx="393.5" cy="409.0" r="1.6" fill="#111" stroke="none" stroke-width="0"/>
<circle cx="397.5" cy="406.2" r="1.6" fill="#111" stroke="none" stroke-width="0"/>
<circle cx="392.8" cy="413.0" r="1.6" fill="#111" stroke="none" stroke-width="0"/>
<circle cx="396.8" cy="417.0" r="1.6" fill="#111" stroke="none" stroke-width="0"/>
<circle cx="401.5" cy="415.3" r="1.6" fill="#111" stroke="none" stroke-width="0"/>
<circle cx="405.6" cy="415.7" r="1.6" fill="#111" stroke="none" stroke-width="0"/>
<circle cx="406.9" cy="417.7" r="1.6" fill="#111" stroke="none" stroke-width="0"/>
<circle cx="409.9" cy="419.7" r="1.6" fill="#111" stroke="none" stroke-width="0"/>
<circle cx="410.7" cy="408.5" r="1.6" fill="#111" stroke="none" stroke-width="0"/>
<circle cx="411.0" cy="414.3" r="1.6" fill="#111" stroke="none" stroke-width="0"/>
<circle cx="415.3" cy="413.0" r="1.6" fill="#111" stroke="none" stroke-width="0"/>
<circle cx="398.2" cy="422.8" r="1.6" fill="#111" stroke="none" stroke-width="0"/>
<circle cx="396.2" cy="424.4" r="1.6" fill="#111" stroke="none" stroke-width="0"/>
<circle cx="395.5" cy="426.4" r="1.6" fill="#111" stroke="none" stroke-width="0"/>
<circle cx="388.7" cy="426.4" r="1.6" fill="#111" stroke="none" stroke-width="0"/>
<circle cx="386.7" cy="427.8" r="1.6" fill="#111" stroke="none" stroke-width="0"/>
<circle cx="382.7" cy="428.5" r="1.6" fill="#111" stroke="none" stroke-width="0"/>
<circle cx="384.5" cy="429.8" r="1.6" fill="#111" stroke="none" stroke-width="0"/>
<circle cx="381.3" cy="431.2" r="1.6" fill="#111" stroke="none" stroke-width="0"/>
<circle cx="390.5" cy="426.5" r="1.6" fill="#111" stroke="none" stroke-width="0"/>
<text x="306.4" y="335.2" font-size="6.5" text-anchor="start" fill="#c8305a" font-weight="normal" stroke="#c8305a" stroke-width="0.15"  textLength="19.2" lengthAdjust="spacingAndGlyphs">FASLG</text>
<text x="334.6" y="361.2" font-size="6.5" text-anchor="start" fill="#c8305a" font-weight="normal" stroke="#c8305a" stroke-width="0.15"  textLength="16.8" lengthAdjust="spacingAndGlyphs">TRAIL</text>
<text x="303.3" y="381.8" font-size="6.5" text-anchor="start" fill="#c8305a" font-weight="normal" stroke="#c8305a" stroke-width="0.15"  textLength="20" lengthAdjust="spacingAndGlyphs">CXCL5</text>
<text x="318" y="391.8" font-size="6.5" text-anchor="start" fill="#c8305a" font-weight="normal" stroke="#c8305a" stroke-width="0.15"  textLength="19.4" lengthAdjust="spacingAndGlyphs">CD40L</text>
<text x="450.6" y="333.6" font-size="6.6" text-anchor="start" fill="#4570a5" font-weight="normal" stroke="#4570a5" stroke-width="0.15"  textLength="11.6" lengthAdjust="spacingAndGlyphs">IL15</text>
<text x="438.8" y="373.2" font-size="6.6" text-anchor="start" fill="#4570a5" font-weight="normal" stroke="#4570a5" stroke-width="0.15"  textLength="8.6" lengthAdjust="spacingAndGlyphs">IL6</text>
<text x="435.9" y="387.2" font-size="6.6" text-anchor="start" fill="#4570a5" font-weight="normal" stroke="#4570a5" stroke-width="0.15"  textLength="12" lengthAdjust="spacingAndGlyphs">IL10</text>
<text x="394.8" y="393.5" font-size="6.6" text-anchor="start" fill="#4570a5" font-weight="normal" stroke="#4570a5" stroke-width="0.15"  textLength="11.4" lengthAdjust="spacingAndGlyphs">IL18</text>
<text x="386" y="400.2" font-size="6.6" text-anchor="start" fill="#4570a5" font-weight="normal" stroke="#4570a5" stroke-width="0.15"  textLength="16.2" lengthAdjust="spacingAndGlyphs">OX40</text>
<text x="419" y="398.2" font-size="6.6" text-anchor="start" fill="#4570a5" font-weight="normal" stroke="#4570a5" stroke-width="0.15"  textLength="14.8" lengthAdjust="spacingAndGlyphs">41BB</text>
<text x="424.4" y="410.3" font-size="6.6" text-anchor="start" fill="#4570a5" font-weight="normal" stroke="#4570a5" stroke-width="0.15"  textLength="19" lengthAdjust="spacingAndGlyphs">CXCL9</text>
<text x="419.7" y="419.7" font-size="6.6" text-anchor="start" fill="#4570a5" font-weight="normal" stroke="#4570a5" stroke-width="0.15"  textLength="8.1" lengthAdjust="spacingAndGlyphs">IL8</text>
<line x1="406" y1="396" x2="408.5" y2="402" stroke="#222" stroke-width="0.85" />
<line x1="402.5" y1="400.5" x2="405.8" y2="403.6" stroke="#222" stroke-width="0.85" />
<line x1="419" y1="401.3" x2="417.4" y2="403.6" stroke="#222" stroke-width="0.85" />
<line x1="423.7" y1="407.6" x2="420.4" y2="404.9" stroke="#222" stroke-width="0.85" />
<line x1="417.7" y1="416" x2="415" y2="413" stroke="#222" stroke-width="0.85" />
<text x="444.5" y="421.6" font-size="6.6" text-anchor="start" fill="#333" font-weight="normal" stroke="#333" stroke-width="0.15" font-style="italic" textLength="20" lengthAdjust="spacingAndGlyphs">P = .05</text>
<text x="437.8" y="428.6" font-size="6.6" text-anchor="start" fill="#333" font-weight="normal" stroke="#333" stroke-width="0.15"  textLength="32.4" lengthAdjust="spacingAndGlyphs">significance</text>
<rect x="0.5" y="0.5" width="519" height="470" fill="none" stroke="#666" stroke-width="1"/>
</svg></body></html>
